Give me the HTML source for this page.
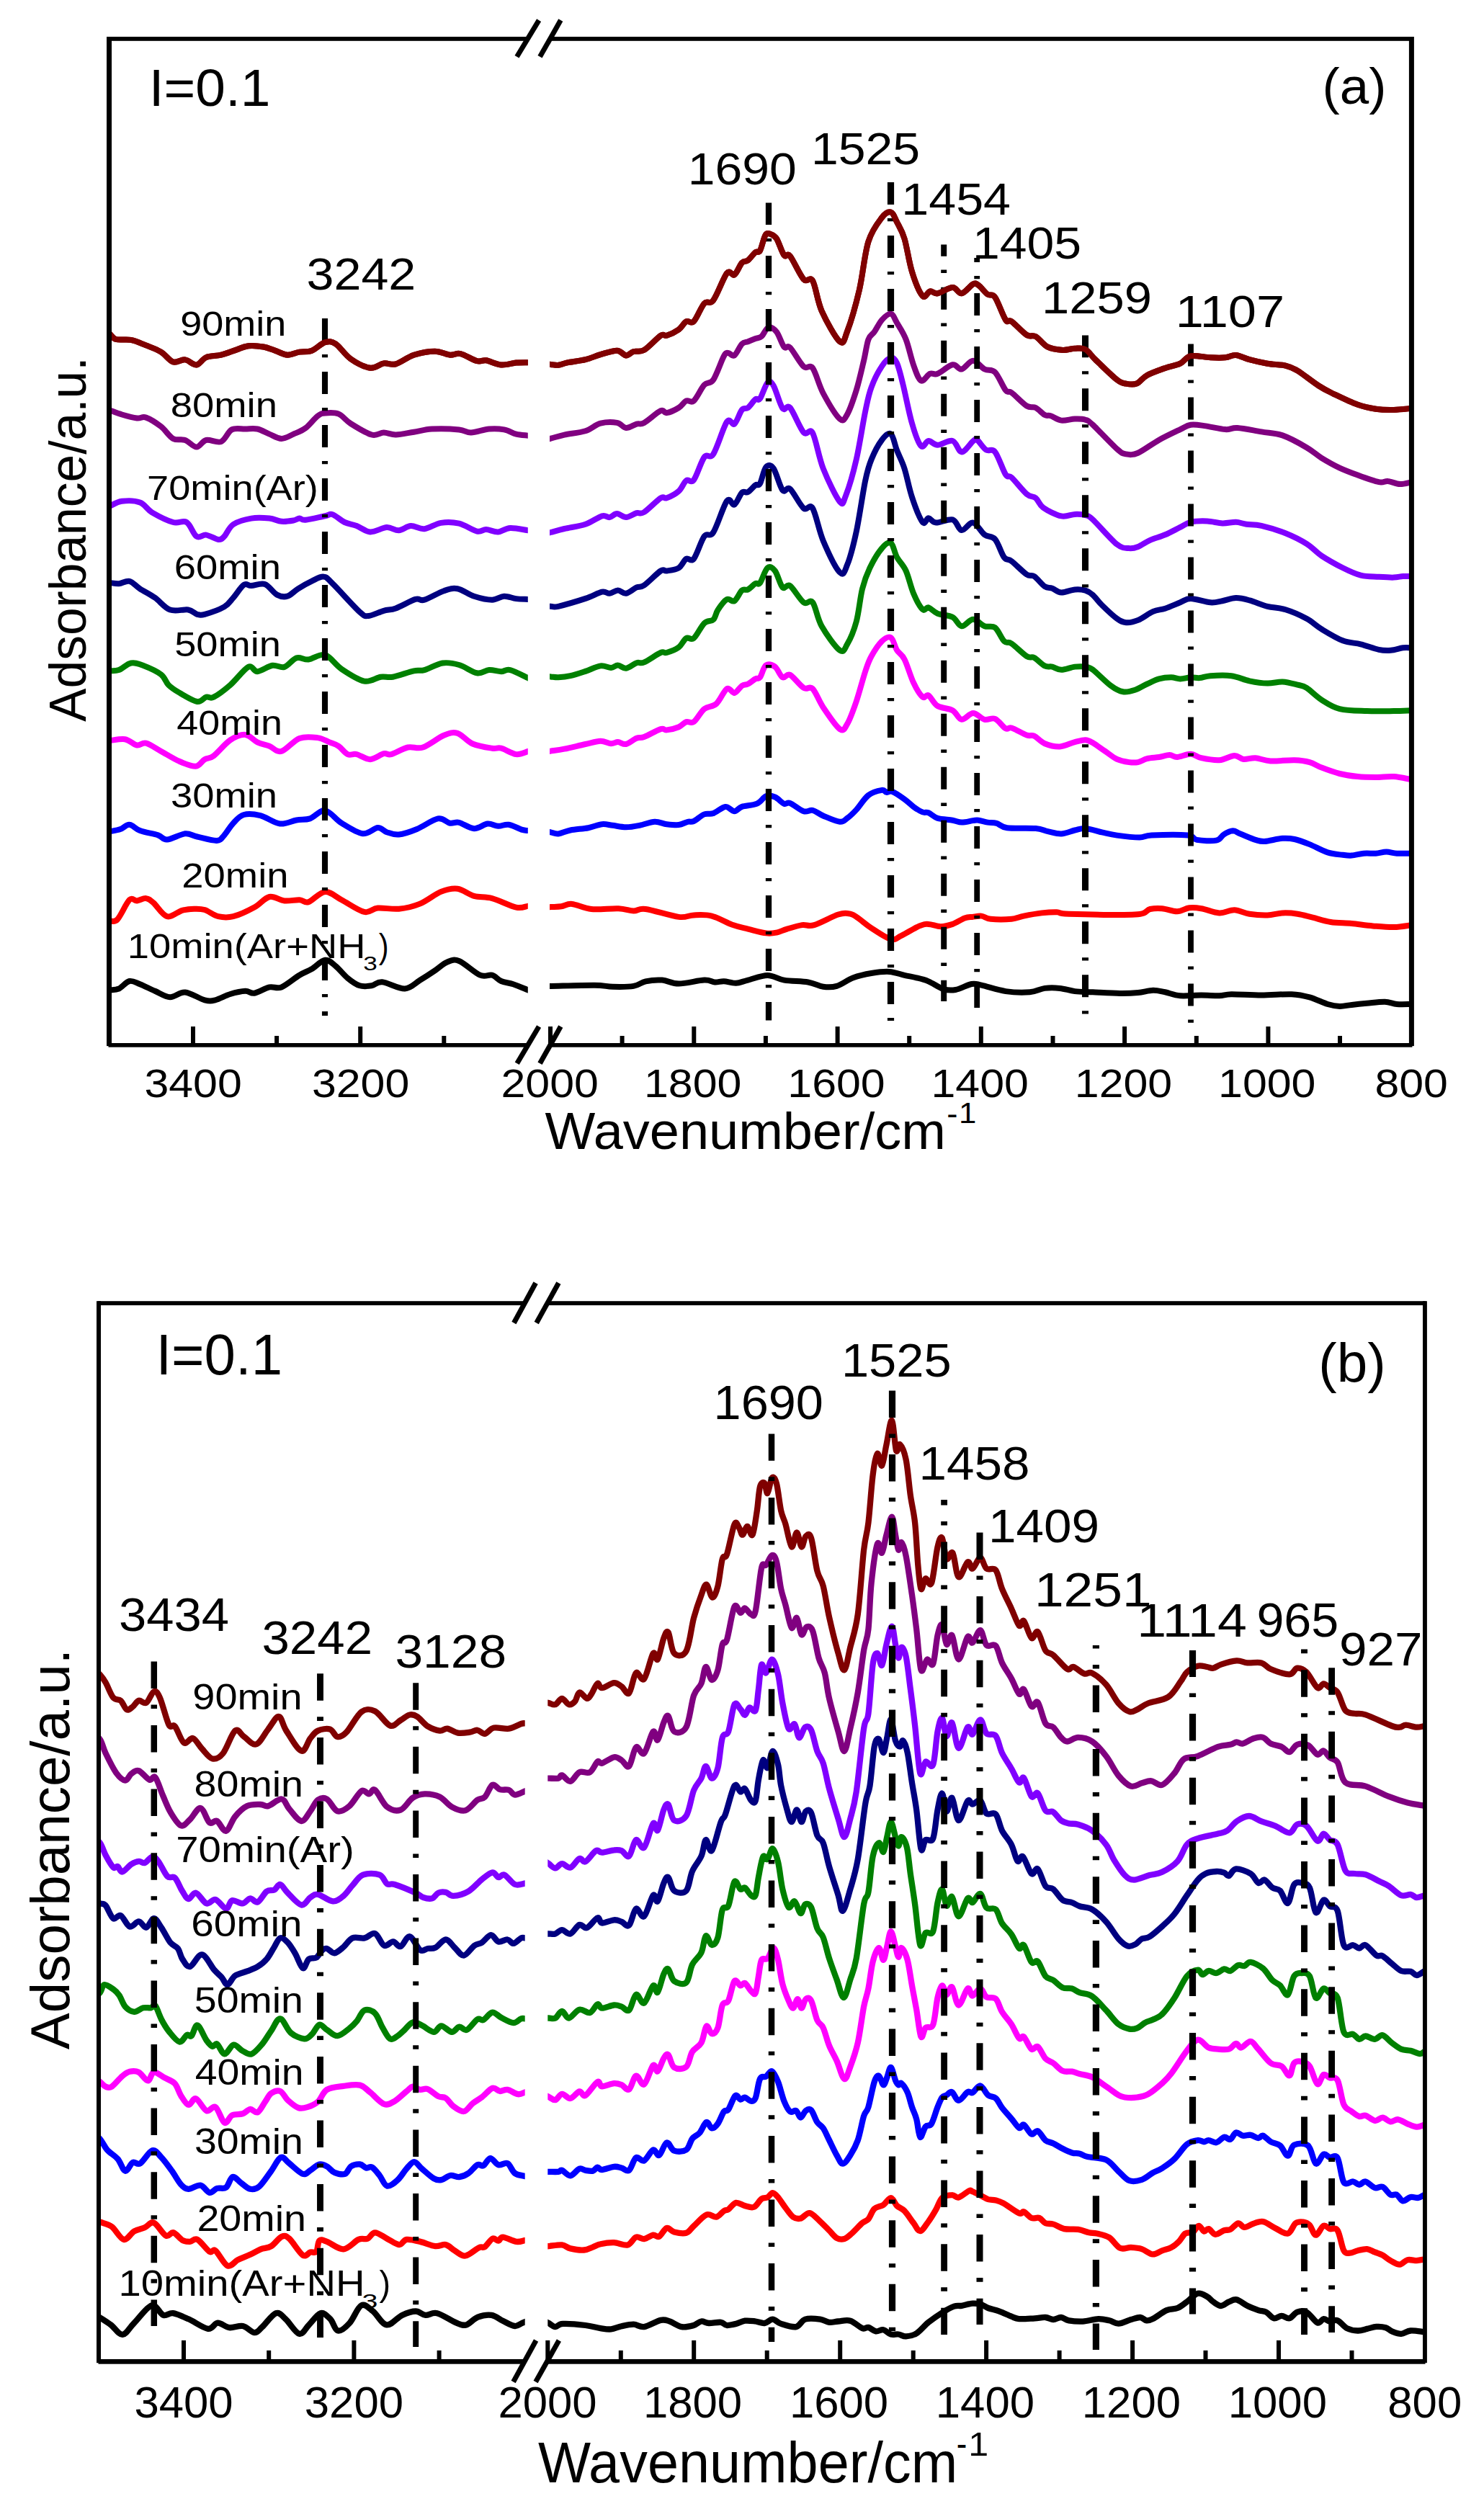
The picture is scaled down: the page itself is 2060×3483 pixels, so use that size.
<!DOCTYPE html>
<html><head><meta charset="utf-8"><title>FTIR spectra</title>
<style>html,body{margin:0;padding:0;background:#fff}svg{display:block}text{font-family:"Liberation Sans",Arial,sans-serif;fill:#000}path{fill:none;stroke-linejoin:round;stroke-linecap:butt}</style></head><body>
<svg width="2060" height="3483" viewBox="0 0 2060 3483">
<rect width="2060" height="3483" fill="#fff"/>
<g id="panelA">
<clipPath id="c1L"><rect x="150" y="0" width="582.8" height="3483"/></clipPath>
<clipPath id="c1R"><rect x="763" y="0" width="1198" height="3483"/></clipPath>
<path d="M142 1376.1C143.6 1375.8 147.9 1375.1 151.7 1374.5C155.5 1373.9 160.4 1374.5 165.1 1372.5C169.7 1370.4 174.8 1363.1 179.7 1362C184.6 1361 188.4 1363.9 194.3 1366.2C200.2 1368.5 208.2 1372.8 215.2 1375.8C222.2 1378.8 229.1 1383.9 236.1 1384.2C243.1 1384.4 249 1376.8 257 1377.5C265 1378.2 277.2 1386.5 284.1 1388.3C291.1 1390.1 292.8 1389.7 298.8 1388.3C304.7 1386.9 312.7 1382.1 319.6 1380C326.6 1377.9 335 1376 340.5 1375.8C346.1 1375.6 347.5 1379.6 353.1 1378.7C358.6 1377.8 367.7 1371.8 374 1370.4C380.2 1369 383.7 1373.1 390.7 1370.4C397.6 1367.6 408.8 1357.8 415.7 1353.7C422.7 1349.5 426.5 1348.8 432.5 1345.3C438.4 1341.8 445.7 1333.5 451.3 1332.8C456.8 1332.1 460.7 1336.9 465.9 1341.1C471.1 1345.3 477 1353.3 482.6 1357.8C488.2 1362.4 493.7 1366.5 499.3 1368.3C504.9 1370 510.8 1369.1 516 1368.3C521.2 1367.4 523 1362.6 530.6 1363.3C538.3 1364 553.3 1372.9 562 1372.5C570.7 1372 575.9 1364.9 582.9 1360.8C589.8 1356.6 597.5 1351.6 603.7 1347.4C610 1343.2 614.9 1337.9 620.5 1335.7C626 1333.5 629.5 1331 637.2 1334C644.8 1337 658.8 1350.4 666.4 1353.7C674.1 1356.9 678.3 1352.3 683.1 1353.7C688 1355 690.8 1359.9 695.7 1362C700.5 1364.1 706.1 1364.1 712.4 1366.2C718.6 1368.3 728.5 1372.6 733.3 1374.5C738 1376.4 739.5 1377.1 740.8 1377.6" stroke="#000000" stroke-width="8.0" clip-path="url(#c1L)"/>
<path d="M755 1369.1C756.6 1369.1 752.9 1369.2 764.6 1368.9C776.3 1368.7 810.9 1367.6 825.2 1367.7C839.5 1367.8 841.2 1369.6 850.3 1369.8C859.3 1370 871.9 1370.2 879.5 1368.9C887.2 1367.7 889.6 1363.7 896.2 1362.3C902.8 1360.9 911.5 1360 919.2 1360.6C926.9 1361.2 932.4 1365.6 942.2 1365.6C951.9 1365.6 969.3 1360.9 977.7 1360.6C986.1 1360.2 987.8 1363.2 992.3 1363.5C996.8 1363.8 1000 1362.1 1004.9 1362.3C1009.7 1362.5 1016 1365 1021.6 1364.8C1027.1 1364.5 1031 1362.4 1038.3 1360.6C1045.6 1358.8 1057.1 1353.9 1065.4 1353.9C1073.8 1353.9 1079 1359 1088.4 1360.6C1097.8 1362.2 1112.8 1362 1121.8 1363.5C1130.9 1365 1136.1 1368.9 1142.7 1369.8C1149.3 1370.7 1154.6 1371 1161.5 1368.9C1168.5 1366.9 1176.5 1360.2 1184.5 1357.3C1192.5 1354.3 1201.2 1352.4 1209.6 1351C1217.9 1349.6 1227 1348.4 1234.6 1348.9C1242.3 1349.4 1249.3 1352.5 1255.5 1353.9C1261.8 1355.3 1266.7 1355.9 1272.2 1357.3C1277.8 1358.6 1282.7 1359.6 1288.9 1362.3C1295.2 1364.9 1303.6 1371.2 1309.8 1373.1C1316.1 1375.1 1320.1 1375.1 1326.5 1374C1333 1372.8 1342.7 1367.1 1348.7 1366C1354.7 1365 1354.7 1366 1362.5 1367.7C1370.4 1369.4 1384.8 1374.4 1396 1376.1C1407.1 1377.7 1420.3 1378 1429.4 1377.3C1438.4 1376.6 1443.3 1372.8 1450.3 1371.9C1457.2 1371 1464.2 1371.2 1471.2 1371.9C1478.1 1372.6 1484.4 1375.1 1492 1376.1C1499.7 1377 1506.7 1376.8 1517.1 1377.3C1527.6 1377.8 1544.3 1378.8 1554.7 1379C1565.2 1379.1 1572.1 1378.8 1579.8 1378.1C1587.4 1377.4 1594.4 1374.9 1600.7 1374.8C1606.9 1374.7 1611.1 1376.1 1617.4 1377.3C1623.7 1378.6 1629.9 1381.6 1638.3 1382.3C1646.6 1383 1658.5 1381.5 1667.5 1381.5C1676.6 1381.5 1685.6 1382.5 1692.6 1382.3C1699.6 1382.1 1699.6 1380.4 1709.3 1380.2C1719 1380.1 1737.2 1381.5 1751.1 1381.5C1765 1381.5 1781.7 1379.7 1792.9 1380.2C1804 1380.7 1809.6 1382.1 1817.9 1384.4C1826.3 1386.7 1836 1391.9 1843 1394C1850 1396.1 1854.1 1396.8 1859.7 1396.9C1865.3 1397.1 1870.1 1395.5 1876.4 1394.9C1882.7 1394.2 1889.6 1393.5 1897.3 1392.8C1905 1392.1 1915.4 1390.5 1922.4 1390.7C1929.3 1390.9 1932.8 1393.5 1939.1 1394C1945.4 1394.6 1955 1394 1960 1394C1965 1394 1967.5 1394 1969 1394" stroke="#000000" stroke-width="8.0" clip-path="url(#c1R)"/>
<path d="M142 1280.2C143.6 1279.9 148.2 1279.1 151.7 1278.5C155.2 1277.8 158.3 1281.2 163 1276.4C167.6 1271.5 175.2 1253.5 179.7 1249.2C184.2 1244.9 186.3 1250.8 190.1 1250.5C194 1250.1 198.8 1246.6 202.7 1247.1C206.5 1247.6 208.2 1249.2 213.1 1253.4C218 1257.6 225.3 1270.4 231.9 1272.2C238.5 1273.9 246.5 1265.6 252.8 1263.8C259.1 1262.1 264.3 1261.9 269.5 1261.7C274.7 1261.6 278.6 1261.3 284.1 1263C289.7 1264.7 296.3 1270.7 302.9 1272.2C309.6 1273.7 315.5 1274.3 323.8 1272.2C332.2 1270.1 344.7 1264.2 353.1 1259.6C361.4 1255.1 367 1246.6 374 1245C380.9 1243.5 387.9 1249.8 394.9 1250.5C401.8 1251.2 410.2 1248.9 415.7 1249.2C421.3 1249.5 422.4 1254 428.3 1252.1C434.2 1250.2 443.6 1238.4 451.3 1237.9C458.9 1237.4 465.2 1244.5 474.2 1249.2C483.3 1253.9 497.2 1264 505.6 1265.9C513.9 1267.8 516.4 1261.2 524.4 1260.5C532.4 1259.8 543.9 1262.7 553.6 1261.7C563.4 1260.8 573.1 1258.6 582.9 1254.6C592.6 1250.7 603.4 1241.4 612.1 1237.9C620.8 1234.4 627.4 1232.8 635.1 1233.7C642.7 1234.7 650.1 1241.5 658.1 1243.8C666.1 1246 673.4 1244.5 683.1 1247.1C692.9 1249.8 708.2 1257.9 716.5 1259.6C724.9 1261.4 729.2 1258.1 733.3 1257.6C737.3 1257.1 739.5 1256.8 740.8 1256.6" stroke="#ff0000" stroke-width="8.0" clip-path="url(#c1L)"/>
<path d="M755 1259.6C756.6 1259.5 760.6 1259.3 764.6 1259.1C768.7 1258.8 774.4 1258.9 779.2 1258.2C784.1 1257.5 786.9 1254.3 793.9 1254.9C800.8 1255.5 810.2 1261 821 1262C831.8 1263 848.9 1260.7 858.6 1261.2C868.4 1261.6 873.2 1264.4 879.5 1264.5C885.8 1264.6 885.8 1260.6 896.2 1262C906.7 1263.4 931 1271.5 942.2 1272.9C953.3 1274.2 955.4 1270.6 963.1 1270.4C970.7 1270.1 979.1 1269.3 988.1 1271.6C997.2 1273.9 1009 1281.1 1017.4 1284.1C1025.7 1287.1 1030.6 1287.7 1038.3 1289.6C1045.9 1291.4 1056.7 1294.6 1063.3 1295.4C1070 1296.3 1073.1 1295.6 1078 1294.6C1082.8 1293.6 1086.7 1291.3 1092.6 1289.6C1098.5 1287.8 1107.2 1285 1113.5 1284.1C1119.7 1283.2 1121.8 1286.6 1130.2 1284.1C1138.5 1281.7 1155.3 1272.1 1163.6 1269.5C1172 1266.9 1175.4 1267.6 1180.3 1268.7C1185.2 1269.7 1188 1272.5 1192.9 1275.8C1197.7 1279.1 1202.3 1283.7 1209.6 1288.3C1216.9 1293 1229.8 1302 1236.7 1303.8C1243.7 1305.5 1244.7 1301.8 1251.3 1298.8C1258 1295.7 1270.1 1288 1276.4 1285.4C1282.7 1282.7 1284.1 1282.7 1288.9 1282.9C1293.8 1283 1300.1 1286.2 1305.7 1286.2C1311.2 1286.2 1316.8 1284.8 1322.4 1282.9C1327.9 1280.9 1334.5 1276.2 1339.1 1274.5C1343.7 1272.9 1346.1 1273.3 1350 1272.9C1353.9 1272.4 1358.4 1271.1 1362.5 1271.6C1366.7 1272.1 1368.1 1275.1 1375.1 1275.8C1382 1276.5 1396.7 1276.5 1404.3 1275.8C1412 1275.1 1414.1 1273 1421 1271.6C1428 1270.2 1438.4 1268.3 1446.1 1267.4C1453.8 1266.5 1460.7 1266 1467 1266.2C1473.2 1266.4 1465.6 1268.1 1483.7 1268.7C1501.8 1269.2 1556.8 1270.6 1575.6 1269.5C1594.4 1268.4 1590.2 1263.4 1596.5 1262C1602.8 1260.6 1606.9 1260.6 1613.2 1261.2C1619.5 1261.7 1627.8 1265.5 1634.1 1265.3C1640.4 1265.2 1645.2 1261 1650.8 1260.3C1656.4 1259.6 1660.6 1260 1667.5 1261.2C1674.5 1262.3 1684.9 1267.1 1692.6 1267.4C1700.2 1267.8 1706.5 1263 1713.5 1263.2C1720.4 1263.5 1726.7 1267.5 1734.4 1268.7C1742 1269.9 1751.8 1270.6 1759.4 1270.4C1767.1 1270.1 1773.4 1267.7 1780.3 1267.4C1787.3 1267.1 1794.2 1267.6 1801.2 1268.7C1808.2 1269.7 1814.4 1271.8 1822.1 1273.7C1829.8 1275.6 1838.1 1278.6 1847.2 1280C1856.2 1281.4 1866.7 1281.1 1876.4 1282C1886.2 1283 1895.9 1284.6 1905.7 1285.4C1915.4 1286.2 1925.9 1287.3 1934.9 1287.1C1944 1286.9 1954.3 1284.8 1960 1284.1C1965.7 1283.5 1967.5 1283.3 1969 1283.1" stroke="#ff0000" stroke-width="8.0" clip-path="url(#c1R)"/>
<path d="M142 1156.5C143.6 1156.1 147.5 1155.3 151.7 1154.4C155.9 1153.5 162.5 1152.6 167.2 1151C171.8 1149.4 175.2 1144.4 179.7 1144.8C184.2 1145.1 187.7 1150.7 194.3 1153.1C200.9 1155.6 213.1 1157.3 219.4 1159.4C225.6 1161.5 225.6 1166 231.9 1165.6C238.2 1165.3 250 1158 257 1157.3C263.9 1156.6 266.4 1159.9 273.7 1161.5C281 1163.1 294.6 1167.2 300.8 1166.9C307.1 1166.6 307.5 1163.4 311.3 1159.4C315.1 1155.3 319.3 1147.4 323.8 1142.7C328.4 1137.9 332.2 1132.7 338.5 1131C344.7 1129.2 353.1 1130.1 361.4 1132.2C369.8 1134.3 380.2 1142.5 388.6 1143.5C396.9 1144.5 404.6 1139.7 411.6 1138.5C418.5 1137.3 423.7 1138.6 430.4 1136.4C437 1134.2 443.9 1124.1 451.3 1125.1C458.6 1126.2 465.5 1137.3 474.2 1142.7C482.9 1148 495.1 1156.2 503.5 1157.3C511.8 1158.3 518.8 1149.3 524.4 1148.9C529.9 1148.6 532 1153.6 536.9 1155.2C541.8 1156.8 546.6 1159.2 553.6 1158.5C560.6 1157.8 569.6 1154.7 578.7 1151C587.7 1147.3 600.3 1137.8 607.9 1136.4C615.6 1135 619.8 1141.8 624.6 1142.7C629.5 1143.6 631.6 1140.6 637.2 1141.8C642.7 1143.1 651.4 1149.9 658.1 1150.2C664.7 1150.5 671.3 1144.1 676.9 1143.5C682.4 1142.9 686.6 1146.6 691.5 1146.8C696.4 1147.1 700.5 1143.9 706.1 1144.8C711.7 1145.6 720.4 1150.5 724.9 1151.9C729.4 1153.3 730.6 1152.7 733.3 1153.1C735.9 1153.5 739.5 1154.1 740.8 1154.2" stroke="#0000ff" stroke-width="8.0" clip-path="url(#c1L)"/>
<path d="M755 1153.5C756.6 1153.8 761.3 1154.8 764.6 1155.4C768 1156.1 770.5 1158 775.1 1157.5C779.6 1157 784.8 1153.9 791.8 1152.5C798.7 1151.1 809.5 1150.6 816.8 1149.2C824.2 1147.8 830.1 1144.7 835.6 1144.2C841.2 1143.6 844.7 1145.1 850.3 1145.8C855.8 1146.5 862.8 1148.3 869.1 1148.3C875.3 1148.3 881.3 1147.1 887.9 1145.8C894.5 1144.6 902.5 1141.1 908.8 1140.8C915 1140.5 919.9 1143.5 925.5 1144.2C931 1144.8 937.3 1145.5 942.2 1145C947.1 1144.4 951.2 1141.6 954.7 1140.8C958.2 1140 959.2 1141.7 963.1 1140C966.9 1138.2 973.2 1132.2 977.7 1130.4C982.2 1128.6 985.4 1130.9 990.2 1129.1C995.1 1127.4 1002.1 1120.4 1006.9 1119.9C1011.8 1119.4 1015.6 1126.2 1019.5 1126.2C1023.3 1126.2 1024.7 1121.7 1029.9 1119.9C1035.1 1118.2 1045.2 1118.2 1050.8 1115.7C1056.4 1113.3 1059.2 1106.8 1063.3 1105.3C1067.5 1103.8 1071.7 1104.8 1075.9 1106.5C1080.1 1108.3 1084.9 1114.3 1088.4 1115.7C1091.9 1117.1 1092.2 1113.2 1096.8 1114.9C1101.3 1116.6 1110.3 1124.5 1115.6 1126.2C1120.8 1127.9 1123.6 1123.9 1128.1 1124.9C1132.6 1126 1136.5 1129.8 1142.7 1132.5C1149 1135.1 1160.1 1140.3 1165.7 1140.8C1171.3 1141.4 1172.3 1138.6 1176.1 1135.8C1180 1133 1183.8 1129.4 1188.7 1124.1C1193.6 1118.8 1199.5 1108.6 1205.4 1104C1211.3 1099.5 1220 1097.6 1224.2 1096.9C1228.4 1096.2 1228 1099.5 1230.5 1099.9C1232.9 1100.2 1234.6 1097.4 1238.8 1099C1243 1100.6 1250.7 1106 1255.5 1109.5C1260.4 1113 1263.9 1116.9 1268.1 1119.9C1272.2 1122.9 1277.1 1126 1280.6 1127.4C1284.1 1128.8 1285.5 1126.9 1288.9 1128.3C1292.4 1129.7 1295.9 1134.1 1301.5 1135.8C1307.1 1137.5 1316.8 1137.7 1322.4 1138.7C1327.9 1139.7 1330.2 1141.6 1334.9 1141.6C1339.6 1141.7 1346.9 1139.6 1350.8 1139.1C1354.7 1138.7 1355 1138.3 1358.4 1138.7C1361.7 1139.1 1366.7 1140.9 1370.9 1141.6C1375.1 1142.3 1378.9 1141.6 1383.4 1142.9C1387.9 1144.2 1389 1148 1398 1149.2C1407.1 1150.3 1428.3 1149.2 1437.7 1150C1447.1 1150.8 1448.5 1152.9 1454.4 1154.2C1460.4 1155.4 1467 1157.8 1473.2 1157.5C1479.5 1157.2 1486.5 1153.8 1492 1152.5C1497.6 1151.3 1500.4 1149.5 1506.7 1150C1512.9 1150.5 1522.3 1153.8 1529.6 1155.4C1537 1157 1541.8 1158.4 1550.5 1159.6C1559.2 1160.8 1573.9 1162.5 1581.9 1162.5C1589.9 1162.5 1587.4 1160.1 1598.6 1159.6C1609.7 1159.1 1638.3 1158.6 1648.7 1159.6C1659.2 1160.7 1654.6 1164.7 1661.3 1165.9C1667.9 1167.1 1682.1 1168 1688.4 1166.7C1694.7 1165.5 1695 1160.6 1698.9 1158.4C1702.7 1156.1 1707.6 1153.5 1711.4 1153.3C1715.2 1153.2 1716.6 1155.4 1721.8 1157.5C1727.1 1159.6 1737.2 1164.1 1742.7 1165.9C1748.3 1167.6 1749 1168.3 1755.3 1168C1761.5 1167.6 1773.4 1164.3 1780.3 1163.8C1787.3 1163.3 1790.8 1163.6 1797 1165C1803.3 1166.4 1810.3 1169.1 1817.9 1172.1C1825.6 1175.2 1835.3 1181 1843 1183.4C1850.7 1185.9 1858.3 1186.1 1863.9 1186.8C1869.5 1187.5 1871.5 1187.9 1876.4 1187.6C1881.3 1187.3 1887.6 1185.2 1893.1 1184.7C1898.7 1184.2 1904.6 1185 1909.8 1184.7C1915.1 1184.3 1919.6 1182.6 1924.5 1182.6C1929.3 1182.6 1933.2 1184.3 1939.1 1184.7C1945 1185 1955 1184.7 1960 1184.7C1965 1184.7 1967.5 1184.7 1969 1184.7" stroke="#0000ff" stroke-width="8.0" clip-path="url(#c1R)"/>
<path d="M142 1029.2C143.6 1029.1 146.5 1028.8 151.7 1028.3C156.9 1027.8 167 1025.1 173.4 1026.2C179.8 1027.2 185.3 1033.6 190.1 1034.5C195 1035.4 197.1 1030.2 202.7 1031.6C208.2 1033 215.9 1038.7 223.6 1042.9C231.2 1047.1 240.6 1053.2 248.6 1056.7C256.6 1060.2 265.7 1064.2 271.6 1063.8C277.5 1063.4 280 1056.6 284.1 1054.2C288.3 1051.7 290.8 1053.6 296.7 1049.2C302.6 1044.7 312.3 1032.3 319.6 1027.4C327 1022.6 334.3 1019.4 340.5 1019.9C346.8 1020.4 351.7 1027.7 357.3 1030.4C362.8 1033 368.4 1033.7 374 1035.8C379.5 1037.9 383.7 1044.7 390.7 1042.9C397.6 1041.1 407.4 1028.1 415.7 1024.9C424.1 1021.8 433.8 1023.2 440.8 1024.1C447.8 1025 452.6 1028.4 457.5 1030.4C462.4 1032.3 465.9 1033 470.1 1035.8C474.2 1038.6 478.4 1045.2 482.6 1047.1C486.8 1049 489.9 1045.9 495.1 1047.1C500.3 1048.3 507.7 1054.3 513.9 1054.2C520.2 1054 527.8 1047.4 532.7 1046.2C537.6 1045.1 537.6 1048.5 543.2 1047.1C548.7 1045.6 558.8 1039.1 566.1 1037.5C573.5 1035.9 578.7 1040.3 587 1037.5C595.4 1034.7 608.3 1024 616.3 1020.8C624.3 1017.5 628.5 1015.9 635.1 1017.8C641.7 1019.8 648 1029 656 1032.5C664 1035.9 676.5 1037.7 683.1 1038.7C689.7 1039.8 690.1 1037.3 695.7 1038.7C701.2 1040.1 710.3 1046.4 716.5 1047.1C722.8 1047.8 729.2 1043.9 733.3 1042.9C737.3 1041.9 739.5 1041.3 740.8 1041" stroke="#ff00ff" stroke-width="8.0" clip-path="url(#c1L)"/>
<path d="M755 1044.1C756.6 1043.9 759.9 1043.4 764.6 1042.6C769.4 1041.9 775.4 1041.3 783.4 1039.7C791.4 1038.1 804.3 1034.8 812.7 1033C821 1031.2 827.6 1029 833.6 1028.8C839.5 1028.7 844.1 1032 848.2 1032.2C852.2 1032.4 854.3 1030 857.8 1030.1C861.3 1030.2 864.8 1033.9 869.1 1033C873.4 1032.1 879.5 1026.3 883.7 1024.7C887.9 1023 888.6 1025.1 894.1 1023C899.7 1020.9 911.9 1013.7 917.1 1012.1C922.3 1010.5 921.3 1013.9 925.5 1013.4C929.6 1012.9 937.7 1011.1 942.2 1009.2C946.7 1007.3 949.1 1003.3 952.6 1002.1C956.1 1000.9 958.9 1005.1 963.1 1002.1C967.3 999.1 972.5 988.3 977.7 984.1C982.9 980 989.2 981.7 994.4 977C999.6 972.4 1004.9 958.7 1009 956.1C1013.2 953.6 1016 962.7 1019.5 962C1023 961.3 1026.8 954.1 1029.9 952C1033.1 949.9 1035.1 951.1 1038.3 949.5C1041.4 947.9 1045.9 943.9 1048.7 942.4C1051.5 940.8 1052.5 943.4 1055 940.3C1057.4 937.1 1059.9 926 1063.3 923.6C1066.8 921.1 1072 922.9 1075.9 925.6C1079.7 928.4 1082.8 938.4 1086.3 940.3C1089.8 942.1 1091.9 934.5 1096.8 936.9C1101.6 939.4 1110.3 951.7 1115.6 954.9C1120.8 958.1 1123.6 951.6 1128.1 956.1C1132.6 960.7 1136.5 972.7 1142.7 982C1149 991.4 1160.1 1008.3 1165.7 1012.1C1171.3 1016 1172.3 1011.4 1176.1 1005C1180 998.6 1184.5 985.9 1188.7 973.7C1192.9 961.5 1197.7 942.4 1201.2 931.9C1204.7 921.5 1205.7 918 1209.6 911C1213.4 904.1 1219.7 894.5 1224.2 890.1C1228.7 885.8 1233.2 883 1236.7 885.1C1240.2 887.2 1241.9 897.7 1245.1 902.7C1248.2 907.7 1251.7 907.7 1255.5 915.2C1259.4 922.7 1263.9 939.1 1268.1 947.8C1272.2 956.5 1277.1 964.5 1280.6 967.4C1284.1 970.4 1285.5 963.2 1288.9 965.3C1292.4 967.4 1295.9 976.5 1301.5 980C1307.1 983.4 1316.8 983.1 1322.4 986.2C1327.9 989.4 1330.2 998.1 1334.9 998.8C1339.6 999.4 1345.5 990 1350.8 990C1356.1 990 1361.6 997.4 1366.7 998.8C1371.8 1000.1 1376.5 995.8 1381.3 997.9C1386.2 1000 1392.1 1009.2 1396 1011.3C1399.8 1013.4 1399.4 1008.9 1404.3 1010.5C1409.2 1012 1420 1018.6 1425.2 1020.5C1430.4 1022.4 1431.5 1019.8 1435.6 1021.7C1439.8 1023.7 1444.4 1029.7 1450.3 1032.2C1456.2 1034.6 1464.2 1036.7 1471.2 1036.4C1478.1 1036 1486.1 1031.6 1492 1030.1C1498 1028.6 1502.5 1027 1506.7 1027.2C1510.8 1027.4 1512.6 1028.8 1517.1 1031.3C1521.6 1033.9 1528.3 1038.9 1533.8 1042.6C1539.4 1046.4 1545 1051.3 1550.5 1053.9C1556.1 1056.5 1562.4 1057.4 1567.3 1058.1C1572.1 1058.8 1575.6 1058.9 1579.8 1058.1C1584 1057.3 1587.4 1054.3 1592.3 1053.1C1597.2 1051.9 1603.8 1051.8 1609 1051C1614.3 1050.1 1619.5 1048.1 1623.7 1048.1C1627.8 1048.1 1629.2 1051.2 1634.1 1051C1639 1050.8 1647.3 1046.6 1652.9 1046.8C1658.5 1047 1660.9 1050.8 1667.5 1052.2C1674.1 1053.6 1684.9 1055.7 1692.6 1055.2C1700.2 1054.6 1707.9 1049.1 1713.5 1048.9C1719 1048.7 1721.1 1053.4 1726 1053.9C1730.9 1054.5 1736.5 1051.8 1742.7 1052.2C1749 1052.7 1754.6 1055.9 1763.6 1056.4C1772.7 1056.9 1788 1054.9 1797 1055.2C1806.1 1055.4 1811.7 1056.3 1817.9 1058.1C1824.2 1059.8 1827.7 1063 1834.6 1065.6C1841.6 1068.3 1851.3 1071.9 1859.7 1074C1868.1 1076.1 1876.4 1077.3 1884.8 1078.1C1893.1 1079 1901.5 1079 1909.8 1079C1918.2 1079 1926.5 1077.6 1934.9 1078.1C1943.3 1078.7 1954.3 1081.4 1960 1082.3C1965.7 1083.3 1967.5 1083.6 1969 1083.8" stroke="#ff00ff" stroke-width="8.0" clip-path="url(#c1R)"/>
<path d="M142 932.3C143.6 932.1 147.9 931.7 151.7 931.3C155.5 931 160.1 931.9 165.1 930.1C170.1 928.3 176.2 921.5 181.8 920.5C187.3 919.4 191.5 921.2 198.5 923.8C205.5 926.5 217.6 931.8 223.6 936.4C229.5 940.9 229.8 946.8 234 951C238.2 955.2 242 957.6 248.6 961.4C255.2 965.3 267.4 972.9 273.7 974C280 975 282.4 968.7 286.2 967.7C290.1 966.7 291.1 970.5 296.7 967.7C302.2 964.9 311.6 957.9 319.6 951C327.7 944 338.5 929 344.7 925.9C351 922.8 351.7 932.5 357.3 932.2C362.8 931.8 371.9 924.9 378.1 923.8C384.4 922.8 389.3 927.7 394.9 925.9C400.4 924.2 406 915.1 411.6 913.4C417.1 911.6 421.7 916.2 428.3 915.5C434.9 914.8 443.6 907 451.3 909.2C458.9 911.4 465.2 922.8 474.2 928.8C483.3 934.9 496.5 943.7 505.6 945.6C514.6 947.4 521.9 940.7 528.5 939.7C535.2 938.7 537.6 941.1 545.3 939.7C552.9 938.3 567.2 932.9 574.5 931.3C581.8 929.7 582.5 931.9 589.1 930.1C595.7 928.3 606.2 921.7 614.2 920.5C622.2 919.3 629.2 920.7 637.2 923C645.2 925.3 655.3 933.1 662.2 934.3C669.2 935.5 673.4 930.4 678.9 930.1C684.5 929.7 690.8 932.2 695.7 932.2C700.5 932.2 701.9 928.6 708.2 930.1C714.5 931.6 727.8 938.9 733.3 941.4C738.7 943.8 739.5 944.2 740.8 944.8" stroke="#008000" stroke-width="8.0" clip-path="url(#c1L)"/>
<path d="M755 938.7C756.6 938.8 761.3 939.2 764.6 939.4C768 939.7 770.5 940.5 775.1 940.3C779.6 940.1 785.5 939.6 791.8 938.2C798 936.8 805.7 934.2 812.7 931.9C819.6 929.6 827.6 925.2 833.6 924.4C839.5 923.6 844.1 927 848.2 926.9C852.2 926.8 854.3 923.4 857.8 923.6C861.3 923.7 864.8 928.3 869.1 927.7C873.4 927.2 879.5 921.6 883.7 920.2C887.9 918.8 888.6 921.7 894.1 919.4C899.7 917 911.9 908.2 917.1 906C922.3 903.8 921.3 907.3 925.5 906C929.6 904.8 937.7 901.8 942.2 898.5C946.7 895.1 949.1 888 952.6 886C956.1 883.9 958.9 889.4 963.1 886C967.3 882.5 973.2 869.4 977.7 865.1C982.2 860.8 987.1 863.1 990.2 860.1C993.4 857 993.4 851.4 996.5 846.8C999.6 842.1 1005.2 834.2 1009 832.1C1012.9 830.1 1016 836.3 1019.5 834.2C1023 832.1 1026.8 822.3 1029.9 819.6C1033.1 817 1035.1 820 1038.3 818.4C1041.4 816.8 1045.9 811.5 1048.7 810C1051.5 808.5 1052.2 812.8 1055 809.2C1057.8 805.5 1061.9 791.1 1065.4 788.3C1068.9 785.5 1072.4 787.9 1075.9 792.5C1079.4 797 1082.8 811.9 1086.3 815.4C1089.8 818.9 1091.9 809.9 1096.8 813.3C1101.6 816.8 1110.3 832.5 1115.6 836.3C1120.8 840.2 1123.9 830.8 1128.1 836.3C1132.3 841.8 1134.4 858.2 1140.6 869.2C1146.9 880.3 1159.8 898.5 1165.7 902.7C1171.6 906.8 1172.3 900.9 1176.1 894.3C1180 887.7 1185.2 875.8 1188.7 863C1192.2 850.2 1193.9 830 1197 817.5C1200.2 805.1 1203 797.7 1207.5 788.3C1212 778.9 1219.3 766.8 1224.2 761.1C1229.1 755.4 1233.2 751.9 1236.7 754C1240.2 756.1 1241.6 767.2 1245.1 773.7C1248.6 780.1 1253.8 784.1 1257.6 792.5C1261.4 800.8 1264.2 814.9 1268.1 823.8C1271.9 832.7 1277.1 842.7 1280.6 845.9C1284.1 849.2 1285.5 842.5 1288.9 843.4C1292.4 844.4 1295.9 849.5 1301.5 851.7C1307.1 853.9 1316.8 853.8 1322.4 856.7C1327.9 859.6 1330.2 868.7 1334.9 869.2C1339.6 869.8 1345.5 859.8 1350.8 859.8C1356.1 859.8 1361.6 867.3 1366.7 869.2C1371.8 871.2 1376.8 867.9 1381.3 871.3C1385.9 874.8 1390 886.4 1393.9 890.1C1397.7 893.8 1399.1 890 1404.3 893.5C1409.5 897 1420 907.8 1425.2 911C1430.4 914.3 1431.5 910.9 1435.6 913.1C1439.8 915.3 1446.1 922.3 1450.3 924.4C1454.4 926.5 1456.9 924.7 1460.7 925.6C1464.5 926.6 1468 929.8 1473.2 929.8C1478.5 929.8 1486.5 926.3 1492 925.6C1497.6 925 1502.5 925 1506.7 925.6C1510.8 926.3 1511.2 925.4 1517.1 929.8C1523 934.2 1535.2 946.9 1542.2 952C1549.1 957.1 1553.3 959.3 1558.9 960.3C1564.5 961.3 1570 959.6 1575.6 957.8C1581.2 956 1586.7 952 1592.3 949.5C1597.9 946.9 1603.5 943.9 1609 942.4C1614.6 940.8 1620.9 940.3 1625.7 940.3C1630.6 940.3 1633.7 942.4 1638.3 942.4C1642.8 942.4 1648.4 940.5 1652.9 940.3C1657.4 940.1 1660.9 941.5 1665.4 941.1C1670 940.8 1672.7 938.7 1680.1 938.2C1687.4 937.7 1700.2 937 1709.3 938.2C1718.4 939.4 1726 943.5 1734.4 945.3C1742.7 947 1751.8 948.4 1759.4 948.6C1767.1 948.8 1773.4 946.2 1780.3 946.5C1787.3 946.9 1795.6 949.3 1801.2 950.7C1806.8 952.1 1808.2 951.4 1813.7 954.9C1819.3 958.4 1827 966.7 1834.6 971.6C1842.3 976.5 1849.3 981.6 1859.7 984.1C1870.1 986.7 1884.8 986.6 1897.3 987.1C1909.8 987.5 1924.5 987.2 1934.9 987.1C1945.4 986.9 1954.3 986.4 1960 986.2C1965.7 986 1967.5 986 1969 985.9" stroke="#008000" stroke-width="8.0" clip-path="url(#c1R)"/>
<path d="M142 808C143.6 808.2 147.9 808.6 151.7 808.9C155.5 809.3 160.4 810.5 165.1 810.2C169.7 809.8 174.8 805.7 179.7 806.8C184.6 808 188.4 813.5 194.3 817.3C200.2 821.1 208.2 825 215.2 829.8C222.2 834.7 228.4 843.8 236.1 846.5C243.8 849.3 254.9 845.5 261.2 846.5C267.4 847.6 269.9 851.8 273.7 852.8C277.5 853.8 277.9 854.5 284.1 852.8C290.4 851.1 304.7 846.2 311.3 842.4C317.9 838.5 319.3 834.9 323.8 829.8C328.4 824.7 334.3 814.6 338.5 811.9C342.6 809.1 344 813.3 348.9 813.1C353.8 813 361.8 808.9 367.7 811C373.6 813.1 379.2 822.9 384.4 825.6C389.6 828.4 394.2 829.1 399 827.7C403.9 826.3 408.1 820.8 413.7 817.3C419.2 813.8 426.5 809.6 432.5 806.8C438.4 804.1 444.3 800 449.2 800.6C454 801.1 453.3 802 461.7 810.2C470.1 818.3 490.9 842 499.3 849.5C507.7 856.9 506.3 855.2 511.8 854.9C517.4 854.6 526.5 849.5 532.7 847.8C539 846 542.1 847.1 549.4 844.4C556.7 841.8 570 833.9 576.6 831.9C583.2 830 582.5 834.7 589.1 832.7C595.7 830.8 608.6 822.8 616.3 820.2C623.9 817.6 628.1 816 635.1 817.3C642 818.5 650.1 825.2 658.1 827.7C666.1 830.3 676.2 832.7 683.1 832.7C690.1 832.7 694.3 828 699.8 827.7C705.4 827.5 711 830.4 716.5 831.1C722.1 831.8 729.2 831.7 733.3 831.9C737.3 832.1 739.5 832.2 740.8 832.3" stroke="#000080" stroke-width="8.0" clip-path="url(#c1L)"/>
<path d="M755 841.8C756.6 841.8 761.3 841.8 764.6 841.8C768 841.8 767.1 843.6 775.1 841.8C783.1 839.9 802.6 834.2 812.7 830.9C822.8 827.5 830.1 822.9 835.6 821.7C841.2 820.5 842.4 824.1 846.1 823.8C849.8 823.4 854 819.6 857.8 819.6C861.6 819.6 864.8 824.5 869.1 823.8C873.4 823.1 879.5 817.3 883.7 815.4C887.9 813.6 888.6 816.3 894.1 812.5C899.7 808.7 911.9 795.8 917.1 792.5C922.3 789.1 921.3 793.1 925.5 792.5C929.6 791.8 937.7 791.1 942.2 788.3C946.7 785.5 949.1 777.8 952.6 775.7C956.1 773.7 958.9 781 963.1 775.7C967.3 770.5 973.2 750.5 977.7 744.4C982.2 738.3 985 747.1 990.2 739C995.5 730.8 1004.2 701.9 1009 695.5C1013.9 689.1 1016 702.5 1019.5 700.5C1023 698.6 1026.8 686.8 1029.9 683.8C1033.1 680.9 1035.1 684.7 1038.3 683C1041.4 681.3 1045.9 675.3 1048.7 673.4C1051.5 671.4 1052.5 675.5 1055 671.3C1057.4 667.1 1060.2 651.8 1063.3 648.3C1066.5 644.8 1070 645 1073.8 650.4C1077.6 655.8 1082.5 675.8 1086.3 680.5C1090.2 685.2 1091.9 674.6 1096.8 678.8C1101.6 683 1110.3 701.1 1115.6 705.6C1120.8 710 1123.6 698 1128.1 705.6C1132.6 713.1 1136.5 735.8 1142.7 750.7C1149 765.5 1160.1 789 1165.7 794.5C1171.3 800.1 1172.3 793.5 1176.1 784.1C1180 774.7 1184.5 757.6 1188.7 738.1C1192.9 718.6 1197.7 683.8 1201.2 667.1C1204.7 650.4 1205.7 647.3 1209.6 637.9C1213.4 628.5 1219.7 616.6 1224.2 610.7C1228.7 604.8 1233.2 599.9 1236.7 602.4C1240.2 604.8 1241.9 617.3 1245.1 625.3C1248.2 633.3 1252 639.6 1255.5 650.4C1259 661.2 1261.8 677.7 1266 690.1C1270.1 702.5 1276.8 719.9 1280.6 724.8C1284.4 729.6 1285.8 719.2 1288.9 719.3C1292.1 719.5 1293.8 725.3 1299.4 725.6C1305 726 1316.5 719.7 1322.4 721.4C1328.3 723.2 1330.2 735.4 1334.9 736.1C1339.6 736.7 1345.5 724.6 1350.8 725.6C1356.1 726.7 1361.6 738.5 1366.7 742.3C1371.8 746.1 1376.8 743.4 1381.3 748.6C1385.9 753.8 1390 768.6 1393.9 773.7C1397.7 778.7 1399.1 775.1 1404.3 779.1C1409.5 783.1 1420 794 1425.2 797.5C1430.4 800.9 1431.5 797.2 1435.6 800C1439.8 802.8 1446.1 811.4 1450.3 814.2C1454.4 817 1456.9 815.3 1460.7 816.7C1464.5 818.1 1468 822.3 1473.2 822.5C1478.5 822.8 1486.5 818.8 1492 818.4C1497.6 817.9 1502.5 818.4 1506.7 819.6C1510.8 820.9 1513.3 822.5 1517.1 825.9C1520.9 829.3 1524.1 834.5 1529.6 840C1535.2 845.5 1545 854.8 1550.5 858.8C1556.1 862.8 1558.2 863.9 1563.1 864.2C1567.9 864.6 1573.5 863.5 1579.8 860.9C1586.1 858.3 1594.4 851.6 1600.7 848.9C1606.9 846.2 1611.1 846.8 1617.4 844.7C1623.7 842.6 1632.4 838.6 1638.3 836.3C1644.2 834 1645.9 830.9 1652.9 830.9C1659.9 830.9 1672.7 835.8 1680.1 836.3C1687.4 836.9 1690.8 835.3 1696.8 834.2C1702.7 833.2 1709.3 830.2 1715.6 830.1C1721.8 829.9 1727.1 831.4 1734.4 833.4C1741.7 835.3 1751.1 839.6 1759.4 841.8C1767.8 843.9 1775.4 843.4 1784.5 846.3C1793.6 849.1 1805.4 854.3 1813.7 858.8C1822.1 863.3 1826.3 868.3 1834.6 873.4C1843 878.5 1854.8 885.8 1863.9 889.3C1872.9 892.8 1880.6 892.2 1888.9 894.3C1897.3 896.4 1907.1 900.4 1914 901.8C1921 903.2 1925.2 903.1 1930.7 902.7C1936.3 902.3 1942.6 899.9 1947.4 899.3C1952.3 898.8 1956.4 899.3 1960 899.3C1963.6 899.3 1967.5 899.3 1969 899.3" stroke="#000080" stroke-width="8.0" clip-path="url(#c1R)"/>
<path d="M142 706.8C143.6 706.2 147.2 704.7 151.7 702.9C156.2 701.1 162.1 696.7 169.2 695.8C176.3 694.9 187.3 694.9 194.3 697.5C201.3 700 203.4 706.7 211 711.3C218.7 715.8 232.3 722.7 240.3 725C248.3 727.3 253.6 721.8 259.1 725C264.5 728.3 268.3 741.8 272.9 744.7C277.4 747.6 281.2 741.9 286.2 742.6C291.2 743.3 298.8 748.5 302.9 748.9C307.1 749.2 307.8 748.2 311.3 744.7C314.8 741.2 317.6 732.1 323.8 728C330.1 723.8 340.5 721 348.9 719.6C357.3 718.2 367 718.9 374 719.6C380.9 720.3 385.1 723.3 390.7 723.8C396.2 724.3 403.2 723.2 407.4 722.5C411.6 721.8 413 719.7 415.7 719.6C418.5 719.5 418.2 722.3 424.1 721.7C430 721.1 445 717.5 451.3 716.3C457.5 715 457.2 712.7 461.7 714.2C466.2 715.6 472.8 722.4 478.4 725C484 727.7 489.2 727.8 495.1 730.1C501 732.3 507 738.1 513.9 738.4C520.9 738.8 530.3 732.5 536.9 732.1C543.5 731.8 548 736.7 553.6 736.3C559.2 736 564.4 730.4 570.3 730.1C576.2 729.7 582.2 734.9 589.1 734.2C596.1 733.5 604.1 727.1 612.1 725.9C620.1 724.6 628.8 724.8 637.2 726.7C645.5 728.7 656 736.2 662.2 737.6C668.5 739 669.9 734.9 674.8 735.1C679.6 735.2 685.9 738.8 691.5 738.4C697.1 738.1 701.2 733.3 708.2 733C715.2 732.6 727.8 735.6 733.3 736.3C738.7 737 739.5 737.2 740.8 737.3" stroke="#8000ff" stroke-width="8.0" clip-path="url(#c1L)"/>
<path d="M755 741.5C756.6 741.1 759.9 740.2 764.6 739C769.4 737.7 775.4 735.8 783.4 734C791.4 732.1 804 730.6 812.7 727.7C821.4 724.8 830.1 718 835.6 716.4C841.2 714.8 842.6 718.6 846.1 718.1C849.6 717.5 852.7 713.1 856.5 713.1C860.4 713.1 864.5 718.2 869.1 718.1C873.6 717.9 879.5 713.4 883.7 712.2C887.9 711.1 888.6 714.5 894.1 711C899.7 707.5 911.9 694.6 917.1 691.3C922.3 688.1 921.3 692.9 925.5 691.3C929.6 689.7 937.7 685.8 942.2 681.7C946.7 677.7 949.1 669.7 952.6 667.1C956.1 664.5 958.9 671.7 963.1 666.3C967.3 660.8 973.2 640.5 977.7 634.5C982.2 628.5 985 638.5 990.2 630.4C995.5 622.2 1004.2 592.6 1009 585.6C1013.9 578.7 1016 591.4 1019.5 588.6C1023 585.8 1026.8 572.7 1029.9 568.9C1033.1 565.2 1035.1 568.4 1038.3 566C1041.4 563.6 1045.9 556.4 1048.7 554.3C1051.5 552.2 1052.2 557.3 1055 553.5C1057.8 549.6 1062.3 534.3 1065.4 531.3C1068.6 528.3 1070.3 529.6 1073.8 535.5C1077.3 541.4 1082.5 561.8 1086.3 566.8C1090.2 571.9 1091.9 560.4 1096.8 566C1101.6 571.6 1110.3 594.4 1115.6 600.3C1120.8 606.1 1123.6 592.7 1128.1 601.1C1132.6 609.5 1136.5 634.5 1142.7 650.4C1149 666.3 1160.5 690.1 1165.7 696.4C1170.9 702.6 1170.2 697.8 1174.1 688C1177.9 678.3 1184.2 657.4 1188.7 637.9C1193.2 618.4 1197.7 587.7 1201.2 571C1204.7 554.3 1205.7 548 1209.6 537.6C1213.4 527.2 1219.7 515.2 1224.2 508.4C1228.7 501.5 1233.2 497.4 1236.7 496.7C1240.2 496 1242.3 498.1 1245.1 504.2C1247.9 510.3 1250 519.5 1253.4 533.4C1256.9 547.3 1261.8 573.5 1266 587.7C1270.1 602 1274.7 615 1278.5 619.1C1282.3 623.1 1285.1 612.2 1288.9 612C1292.8 611.8 1295.9 617.8 1301.5 617.8C1307.1 617.8 1316.8 610.4 1322.4 612C1327.9 613.6 1330.2 627.4 1334.9 627.4C1339.6 627.5 1347.2 615.2 1350.8 612.4C1354.4 609.6 1353.3 608.7 1356.3 610.7C1359.3 612.7 1364.6 621.7 1368.8 624.5C1373 627.3 1376.8 621.7 1381.3 627.4C1385.9 633.1 1392.1 652.8 1396 658.8C1399.8 664.7 1399.4 658.4 1404.3 662.9C1409.2 667.5 1419.6 681.2 1425.2 685.9C1430.8 690.7 1433.9 688.2 1437.7 691.3C1441.6 694.5 1442.3 700.5 1448.2 704.7C1454.1 708.9 1465.9 714.9 1473.2 716.4C1480.6 717.9 1486.5 714.1 1492 713.9C1497.6 713.7 1502.5 713.9 1506.7 715.2C1510.8 716.4 1509.8 714.7 1517.1 721.4C1524.4 728.2 1542.2 749.1 1550.5 755.7C1558.9 762.3 1562.4 760.6 1567.3 761.1C1572.1 761.7 1574.9 760.9 1579.8 759C1584.7 757.1 1590.2 752.6 1596.5 749.8C1602.8 747.1 1610.4 745.3 1617.4 742.3C1624.3 739.3 1632.4 734.8 1638.3 731.9C1644.2 728.9 1646.6 726.2 1652.9 724.8C1659.2 723.4 1668.6 723.2 1675.9 723.5C1683.2 723.8 1690.2 726.2 1696.8 726.4C1703.4 726.7 1710 724.6 1715.6 724.8C1721.1 725 1724.3 726.9 1730.2 727.7C1736.1 728.5 1742 727.7 1751.1 729.8C1760.1 731.9 1774.1 736.1 1784.5 740.2C1794.9 744.4 1805.4 749.6 1813.7 754.9C1822.1 760.1 1826.3 766 1834.6 771.6C1843 777.1 1854.8 783.7 1863.9 788.3C1872.9 792.8 1880.6 796.6 1888.9 798.7C1897.3 800.8 1906.4 800.3 1914 800.8C1921.7 801.3 1929.3 801.8 1934.9 801.6C1940.5 801.5 1943.3 800.3 1947.4 800C1951.6 799.7 1956.4 800 1960 800C1963.6 800 1967.5 800 1969 800" stroke="#8000ff" stroke-width="8.0" clip-path="url(#c1R)"/>
<path d="M142 565.7C143.6 566.3 147.2 567.6 151.7 569.2C156.2 570.8 162.8 573.6 169.2 575.5C175.7 577.4 184.6 579.8 190.1 580.5C195.7 581.2 197.1 577.7 202.7 579.6C208.2 581.6 217.3 587.3 223.6 592.2C229.8 597.1 234.7 605.8 240.3 608.9C245.8 612 251.5 609 257 611C262.4 612.9 268 620.6 272.9 620.6C277.7 620.6 280.5 612.2 286.2 611C291.9 609.7 301.2 615.5 307.1 613.1C313 610.6 316.2 599.3 321.7 596.4C327.3 593.4 334.6 595.7 340.5 595.5C346.5 595.4 351.7 594.3 357.3 595.5C362.8 596.7 368.4 600.4 374 602.6C379.5 604.9 385.1 608.9 390.7 608.9C396.2 608.9 401.8 605.1 407.4 602.6C413 600.2 418.5 598.5 424.1 594.3C429.7 590.1 436.3 581 440.8 577.6C445.3 574.1 446.4 573.9 451.3 573.4C456.1 572.9 464.1 572.2 470.1 574.6C476 577.1 479.1 583.2 486.8 588C494.4 592.8 508.4 601.4 516 603.5C523.7 605.6 527.2 600.5 532.7 600.5C538.3 600.5 542.5 603.6 549.4 603.5C556.4 603.3 566.1 601 574.5 599.7C582.9 598.4 589.1 596.1 599.6 595.5C610 595 628.1 595.5 637.2 596.4C646.2 597.2 646.9 600.7 653.9 600.5C660.8 600.4 671.3 596.2 678.9 595.5C686.6 594.8 693.6 595.2 699.8 596.4C706.1 597.5 711 601.2 716.5 602.6C722.1 604 729.2 604.2 733.3 604.7C737.3 605.2 739.5 605.5 740.8 605.7" stroke="#800080" stroke-width="8.0" clip-path="url(#c1L)"/>
<path d="M755 611.2C756.6 610.8 759.9 609.9 764.6 608.6C769.4 607.4 775.4 605.4 783.4 603.6C791.4 601.9 804.3 600.8 812.7 598.2C821 595.5 826.2 589.6 833.6 587.7C840.9 585.9 850.6 585.9 856.5 586.9C862.5 587.9 864.5 593.7 869.1 594C873.6 594.3 879.5 589.8 883.7 588.6C887.9 587.4 888.6 590 894.1 586.9C899.7 583.8 911.9 572.5 917.1 570.2C922.3 567.9 921.3 573.8 925.5 573.1C929.6 572.4 937.7 568.8 942.2 566C946.7 563.2 949.1 558 952.6 556.4C956.1 554.8 958.9 560.1 963.1 556.4C967.3 552.7 973.2 539.1 977.7 534.3C982.2 529.4 985.7 533.8 990.2 527.2C994.8 520.5 1001.4 500.4 1004.9 494.2C1008.3 488 1008.7 490.2 1011.1 490.1C1013.6 489.9 1016.3 495.5 1019.5 493.4C1022.6 491.3 1026.8 480.7 1029.9 477.5C1033.1 474.3 1035.1 475.4 1038.3 474.2C1041.4 472.9 1045.6 471.2 1048.7 470C1051.9 468.8 1054.1 469.7 1057.1 467.1C1060.1 464.5 1063.2 455.6 1066.7 454.5C1070.2 453.5 1074.3 456.3 1078 460.8C1081.6 465.3 1085.3 478.1 1088.4 481.7C1091.5 485.3 1092.2 478 1096.8 482.5C1101.3 487.1 1110.3 504.1 1115.6 508.9C1120.8 513.6 1123.6 504.8 1128.1 510.9C1132.6 517.1 1136.5 534.2 1142.7 546C1149 557.7 1160.1 576.6 1165.7 581.5C1171.3 586.3 1172.3 581.8 1176.1 575.2C1180 568.6 1184.8 554.2 1188.7 541.8C1192.5 529.3 1196.3 512.3 1199.1 500.5C1201.9 488.7 1203 477.9 1205.4 471.3C1207.8 464.6 1210.6 465.3 1213.7 460.8C1216.9 456.3 1220.4 448.3 1224.2 444.1C1228 439.9 1233.2 435 1236.7 435.7C1240.2 436.4 1241.6 442.4 1245.1 448.3C1248.6 454.2 1253.8 461.5 1257.6 471.3C1261.4 481 1264.6 497.2 1268.1 506.8C1271.5 516.3 1274.7 526.4 1278.5 528.4C1282.3 530.4 1287.2 520.4 1291 518.8C1294.9 517.2 1296.3 520.9 1301.5 518.8C1306.7 516.7 1316.8 507.3 1322.4 506.3C1327.9 505.2 1330.2 513.5 1334.9 512.5C1339.6 511.6 1345.5 500.7 1350.8 500.7C1356.1 500.7 1361.6 509.9 1366.7 512.5C1371.8 515.2 1376.5 511.8 1381.3 516.7C1386.2 521.6 1392.1 537 1396 541.8C1399.8 546.5 1399.4 541.5 1404.3 545.1C1409.2 548.7 1419.6 560 1425.2 563.5C1430.8 567 1433.6 563.9 1437.7 566C1441.9 568.1 1446.8 574.2 1450.3 576C1453.8 577.9 1454.8 576 1458.6 577.3C1462.5 578.5 1467.7 582.9 1473.2 583.6C1478.8 584.3 1486.5 581.6 1492 581.5C1497.6 581.3 1502.5 581.3 1506.7 582.7C1510.8 584.1 1509.8 583.1 1517.1 589.8C1524.4 596.6 1542.9 616.5 1550.5 623.2C1558.2 630 1558.2 629.4 1563.1 630.4C1567.9 631.3 1572.1 632 1579.8 628.7C1587.4 625.4 1599.3 616.1 1609 610.7C1618.8 605.3 1631 599.6 1638.3 596.1C1645.6 592.6 1647.3 590.7 1652.9 589.8C1658.5 589 1663.7 590 1671.7 591.1C1679.7 592.1 1693.3 595.6 1700.9 596.1C1708.6 596.6 1709.3 593.4 1717.7 594C1726 594.6 1740.6 597.7 1751.1 599.4C1761.5 601.2 1769.9 600.8 1780.3 604.4C1790.8 608.1 1804.7 615.9 1813.7 621.2C1822.8 626.4 1827 631 1834.6 635.8C1842.3 640.5 1851.3 645.6 1859.7 649.6C1868.1 653.5 1875.7 656.3 1884.8 659.6C1893.8 662.9 1907.1 667.8 1914 669.2C1921 670.6 1921.7 667.5 1926.5 668C1931.4 668.4 1937.7 671.9 1943.3 672.1C1948.8 672.3 1955.7 670 1960 669.2C1964.3 668.5 1967.5 667.9 1969 667.6" stroke="#800080" stroke-width="8.0" clip-path="url(#c1R)"/>
<path d="M142 453.9C143.6 455.3 148.5 459.8 151.7 462.7C154.8 465.5 155.9 469.5 160.9 471C165.9 472.6 174.8 470.5 181.8 471.9C188.7 473.3 195.7 476.6 202.7 479.4C209.6 482.2 217.3 484.7 223.6 488.6C229.8 492.4 234.7 500.5 240.3 502.4C245.8 504.2 251.5 498.7 257 499.4C262.4 500.1 268 507.1 272.9 506.5C277.7 506 280.5 498.4 286.2 496.1C291.9 493.8 300.2 494.5 307.1 492.7C314.1 491 321.7 487.7 328 485.6C334.3 483.6 338.5 480.9 344.7 480.2C351 479.5 359.3 480.4 365.6 481.5C371.9 482.6 376.7 485 382.3 486.9C387.9 488.8 393.5 492.5 399 492.7C404.6 493 410.2 489.5 415.7 488.6C421.3 487.6 426.5 489.1 432.5 486.9C438.4 484.7 445.7 476.8 451.3 475.2C456.8 473.6 460 473.5 465.9 477.3C471.8 481.1 478.8 492.6 486.8 498.2C494.8 503.8 506.3 509.7 513.9 510.7C521.6 511.8 526.8 505.4 532.7 504.4C538.6 503.5 542.5 507.2 549.4 505.3C556.4 503.3 565.4 495.7 574.5 492.7C583.6 489.8 595.4 487.7 603.7 487.7C612.1 487.7 618.7 492.2 624.6 492.7C630.6 493.3 633 489.7 639.3 491.1C645.5 492.5 656.3 499.6 662.2 501.1C668.2 502.6 669.2 499.4 674.8 500.3C680.3 501.2 688.7 506 695.7 506.5C702.6 507.1 710.3 504.2 716.5 503.6C722.8 503.1 729.2 503.3 733.3 503.2C737.3 503.1 739.5 503 740.8 503" stroke="#800000" stroke-width="8.0" clip-path="url(#c1L)"/>
<path d="M755 505.2C756.6 505.3 761.3 505.7 764.6 505.9C768 506.2 771.2 507.2 775.1 506.8C778.9 506.3 781.3 504.7 787.6 503.4C793.9 502.2 805 501.1 812.7 499.2C820.3 497.4 826.2 494.2 833.6 492.1C840.9 490.1 850.6 486.5 856.5 486.7C862.5 486.9 865.2 493.2 869.1 493.4C872.9 493.6 875.3 489.2 879.5 488C883.7 486.7 887.9 489.6 894.1 485.9C900.4 482.2 911.9 469.2 917.1 465.8C922.3 462.5 921.3 467.2 925.5 465.8C929.6 464.4 937.7 460.7 942.2 457.5C946.7 454.2 949.1 448.1 952.6 446.2C956.1 444.3 958.9 450.4 963.1 446.2C967.3 442 973.2 426 977.7 421.1C982.2 416.2 985 423.9 990.2 416.9C995.5 410 1004.2 385.3 1009 379.3C1013.9 373.4 1016 383.9 1019.5 381.4C1023 379 1026.8 368.1 1029.9 364.7C1033.1 361.4 1035.1 363.8 1038.3 361.4C1041.4 358.9 1045.9 352.3 1048.7 350.1C1051.5 347.9 1052.7 352 1055 348C1057.3 344 1060.1 330.1 1062.5 326.3C1064.9 322.5 1067 324.2 1069.6 325C1072.2 325.9 1074.8 326.4 1078 331.3C1081.1 336.2 1085.3 350.2 1088.4 354.3C1091.5 358.3 1092.2 350 1096.8 355.5C1101.3 361.1 1110.3 382 1115.6 387.7C1120.8 393.4 1123.9 382.5 1128.1 389.8C1132.3 397.1 1134.4 417.5 1140.6 431.6C1146.9 445.6 1159.8 469.4 1165.7 474.2C1171.6 478.9 1171.6 471.9 1176.1 460C1180.7 448 1188 423.1 1192.9 402.3C1197.7 381.6 1200.2 352.2 1205.4 335.5C1210.6 318.8 1219 308.9 1224.2 302C1229.4 295.2 1233.2 293.5 1236.7 294.5C1240.2 295.6 1241.9 302.2 1245.1 308.3C1248.2 314.4 1252 319.8 1255.5 331.3C1259 342.8 1261.8 364 1266 377.3C1270.1 390.5 1276.4 406.1 1280.6 410.7C1284.8 415.2 1287.6 405 1291 404.4C1294.5 403.8 1296.3 408.2 1301.5 407.3C1306.7 406.4 1316.8 399 1322.4 399C1327.9 399 1330.2 408.1 1334.9 407.3C1339.6 406.6 1346.9 396.3 1350.8 394.4C1354.7 392.5 1355 393.7 1358.4 396.1C1361.7 398.4 1367.1 405.8 1370.9 408.6C1374.7 411.4 1377.2 406.8 1381.3 412.8C1385.5 418.7 1392.1 438.5 1396 444.1C1399.8 449.7 1399.4 442.7 1404.3 446.2C1409.2 449.7 1419.6 461.5 1425.2 465C1430.8 468.5 1432.9 464.3 1437.7 467.1C1442.6 469.9 1448.2 478.6 1454.4 481.7C1460.7 484.8 1469.1 485.5 1475.3 485.9C1481.6 486.2 1486.8 483.9 1492 483.8C1497.3 483.6 1501.8 482.3 1506.7 485C1511.5 487.7 1514 493 1521.3 500C1528.6 507 1543.6 521.7 1550.5 527.2C1557.5 532.6 1558.5 531.7 1563.1 532.6C1567.6 533.5 1572.8 534.5 1577.7 532.6C1582.6 530.6 1585.7 524.5 1592.3 520.9C1598.9 517.3 1609.7 513.6 1617.4 510.9C1625 508.2 1632.4 507.5 1638.3 504.7C1644.2 501.9 1645.9 495.6 1652.9 494.2C1659.9 492.8 1672 496 1680.1 496.3C1688.1 496.7 1695 496.9 1700.9 496.3C1706.9 495.8 1710 492.5 1715.6 493C1721.1 493.5 1727.1 497.3 1734.4 499.2C1741.7 501.2 1751.1 503.3 1759.4 504.7C1767.8 506.1 1777.5 505.9 1784.5 507.6C1791.5 509.3 1793.6 510 1801.2 514.6C1808.9 519.3 1822.1 530.2 1830.5 535.5C1838.8 540.9 1842.3 542.4 1851.3 546.8C1860.4 551.2 1875 558.4 1884.8 561.8C1894.5 565.3 1901.5 566.5 1909.8 567.7C1918.2 568.9 1926.5 569.1 1934.9 568.9C1943.3 568.8 1954.3 567.3 1960 566.8C1965.7 566.4 1967.5 566.2 1969 566.1" stroke="#800000" stroke-width="8.0" clip-path="url(#c1R)"/>
<line x1="451" y1="442" x2="451" y2="1410" stroke="#000" stroke-width="8.1" stroke-dasharray="31 18.9 4.3 19.8" stroke-dashoffset="0"/>
<line x1="1067" y1="281.5" x2="1067" y2="1416.5" stroke="#000" stroke-width="8.3" stroke-dasharray="31 18.9 4.3 19.8" stroke-dashoffset="0.5"/>
<line x1="1236.5" y1="252.7" x2="1236.5" y2="1417" stroke="#000" stroke-width="9.2" stroke-dasharray="31 18.9 4.3 19.8" stroke-dashoffset="73.7"/>
<line x1="1310.2" y1="339.6" x2="1310.2" y2="1390" stroke="#000" stroke-width="8.0" stroke-dasharray="31 18.9 4.3 19.8" stroke-dashoffset="14.9"/>
<line x1="1356.2" y1="358" x2="1356.2" y2="1399" stroke="#000" stroke-width="7.8" stroke-dasharray="31 18.9 4.3 19.8" stroke-dashoffset="24.9"/>
<line x1="1506.5" y1="465.5" x2="1506.5" y2="1409" stroke="#000" stroke-width="9.0" stroke-dasharray="31 18.9 4.3 19.8" stroke-dashoffset="0.2"/>
<line x1="1653" y1="477.5" x2="1653" y2="1421" stroke="#000" stroke-width="7.8" stroke-dasharray="31 18.9 4.3 19.8" stroke-dashoffset="0"/>
<clipPath id="c2L"><rect x="150" y="0" width="582.8" height="3483"/></clipPath>
<clipPath id="c2R"><rect x="763" y="0" width="1198" height="3483"/></clipPath>
<path d="M142 453.9C143.6 455.3 148.5 459.8 151.7 462.7C154.8 465.5 155.9 469.5 160.9 471C165.9 472.6 174.8 470.5 181.8 471.9C188.7 473.3 195.7 476.6 202.7 479.4C209.6 482.2 217.3 484.7 223.6 488.6C229.8 492.4 234.7 500.5 240.3 502.4C245.8 504.2 251.5 498.7 257 499.4C262.4 500.1 268 507.1 272.9 506.5C277.7 506 280.5 498.4 286.2 496.1C291.9 493.8 300.2 494.5 307.1 492.7C314.1 491 321.7 487.7 328 485.6C334.3 483.6 338.5 480.9 344.7 480.2C351 479.5 359.3 480.4 365.6 481.5C371.9 482.6 376.7 485 382.3 486.9C387.9 488.8 393.5 492.5 399 492.7C404.6 493 410.2 489.5 415.7 488.6C421.3 487.6 426.5 489.1 432.5 486.9C438.4 484.7 445.7 476.8 451.3 475.2C456.8 473.6 460 473.5 465.9 477.3C471.8 481.1 478.8 492.6 486.8 498.2C494.8 503.8 506.3 509.7 513.9 510.7C521.6 511.8 526.8 505.4 532.7 504.4C538.6 503.5 542.5 507.2 549.4 505.3C556.4 503.3 565.4 495.7 574.5 492.7C583.6 489.8 595.4 487.7 603.7 487.7C612.1 487.7 618.7 492.2 624.6 492.7C630.6 493.3 633 489.7 639.3 491.1C645.5 492.5 656.3 499.6 662.2 501.1C668.2 502.6 669.2 499.4 674.8 500.3C680.3 501.2 688.7 506 695.7 506.5C702.6 507.1 710.3 504.2 716.5 503.6C722.8 503.1 729.2 503.3 733.3 503.2C737.3 503.1 739.5 503 740.8 503" stroke="#800000" stroke-width="8.0" clip-path="url(#c2L)"/>
<path d="M755 505.2C756.6 505.3 761.3 505.7 764.6 505.9C768 506.2 771.2 507.2 775.1 506.8C778.9 506.3 781.3 504.7 787.6 503.4C793.9 502.2 805 501.1 812.7 499.2C820.3 497.4 826.2 494.2 833.6 492.1C840.9 490.1 850.6 486.5 856.5 486.7C862.5 486.9 865.2 493.2 869.1 493.4C872.9 493.6 875.3 489.2 879.5 488C883.7 486.7 887.9 489.6 894.1 485.9C900.4 482.2 911.9 469.2 917.1 465.8C922.3 462.5 921.3 467.2 925.5 465.8C929.6 464.4 937.7 460.7 942.2 457.5C946.7 454.2 949.1 448.1 952.6 446.2C956.1 444.3 958.9 450.4 963.1 446.2C967.3 442 973.2 426 977.7 421.1C982.2 416.2 985 423.9 990.2 416.9C995.5 410 1004.2 385.3 1009 379.3C1013.9 373.4 1016 383.9 1019.5 381.4C1023 379 1026.8 368.1 1029.9 364.7C1033.1 361.4 1035.1 363.8 1038.3 361.4C1041.4 358.9 1045.9 352.3 1048.7 350.1C1051.5 347.9 1052.7 352 1055 348C1057.3 344 1060.1 330.1 1062.5 326.3C1064.9 322.5 1067 324.2 1069.6 325C1072.2 325.9 1074.8 326.4 1078 331.3C1081.1 336.2 1085.3 350.2 1088.4 354.3C1091.5 358.3 1092.2 350 1096.8 355.5C1101.3 361.1 1110.3 382 1115.6 387.7C1120.8 393.4 1123.9 382.5 1128.1 389.8C1132.3 397.1 1134.4 417.5 1140.6 431.6C1146.9 445.6 1159.8 469.4 1165.7 474.2C1171.6 478.9 1171.6 471.9 1176.1 460C1180.7 448 1188 423.1 1192.9 402.3C1197.7 381.6 1200.2 352.2 1205.4 335.5C1210.6 318.8 1219 308.9 1224.2 302C1229.4 295.2 1233.2 293.5 1236.7 294.5C1240.2 295.6 1241.9 302.2 1245.1 308.3C1248.2 314.4 1252 319.8 1255.5 331.3C1259 342.8 1261.8 364 1266 377.3C1270.1 390.5 1276.4 406.1 1280.6 410.7C1284.8 415.2 1287.6 405 1291 404.4C1294.5 403.8 1296.3 408.2 1301.5 407.3C1306.7 406.4 1316.8 399 1322.4 399C1327.9 399 1330.2 408.1 1334.9 407.3C1339.6 406.6 1346.9 396.3 1350.8 394.4C1354.7 392.5 1355 393.7 1358.4 396.1C1361.7 398.4 1367.1 405.8 1370.9 408.6C1374.7 411.4 1377.2 406.8 1381.3 412.8C1385.5 418.7 1392.1 438.5 1396 444.1C1399.8 449.7 1399.4 442.7 1404.3 446.2C1409.2 449.7 1419.6 461.5 1425.2 465C1430.8 468.5 1432.9 464.3 1437.7 467.1C1442.6 469.9 1448.2 478.6 1454.4 481.7C1460.7 484.8 1469.1 485.5 1475.3 485.9C1481.6 486.2 1486.8 483.9 1492 483.8C1497.3 483.6 1501.8 482.3 1506.7 485C1511.5 487.7 1514 493 1521.3 500C1528.6 507 1543.6 521.7 1550.5 527.2C1557.5 532.6 1558.5 531.7 1563.1 532.6C1567.6 533.5 1572.8 534.5 1577.7 532.6C1582.6 530.6 1585.7 524.5 1592.3 520.9C1598.9 517.3 1609.7 513.6 1617.4 510.9C1625 508.2 1632.4 507.5 1638.3 504.7C1644.2 501.9 1645.9 495.6 1652.9 494.2C1659.9 492.8 1672 496 1680.1 496.3C1688.1 496.7 1695 496.9 1700.9 496.3C1706.9 495.8 1710 492.5 1715.6 493C1721.1 493.5 1727.1 497.3 1734.4 499.2C1741.7 501.2 1751.1 503.3 1759.4 504.7C1767.8 506.1 1777.5 505.9 1784.5 507.6C1791.5 509.3 1793.6 510 1801.2 514.6C1808.9 519.3 1822.1 530.2 1830.5 535.5C1838.8 540.9 1842.3 542.4 1851.3 546.8C1860.4 551.2 1875 558.4 1884.8 561.8C1894.5 565.3 1901.5 566.5 1909.8 567.7C1918.2 568.9 1926.5 569.1 1934.9 568.9C1943.3 568.8 1954.3 567.3 1960 566.8C1965.7 566.4 1967.5 566.2 1969 566.1" stroke="#800000" stroke-width="8.0" clip-path="url(#c2R)"/>
<g fill="#000">
<rect x="148" y="51" width="7" height="1401.1"/>
<rect x="1955.9" y="51" width="7" height="1401.1"/>
<rect x="150" y="51" width="582" height="5.8"/>
<rect x="765" y="51" width="1195.9" height="5.8"/>
<rect x="150.5" y="1448" width="581.5" height="5.7"/>
<rect x="764" y="1448" width="1196.4" height="5.7"/>
</g>
<g stroke="#000" stroke-width="7" stroke-linecap="butt">
<line x1="717.5" y1="78.8" x2="748.1" y2="28.1"/>
<line x1="749.5" y1="78.8" x2="778.3" y2="28.1"/>
<line x1="717.7" y1="1476.3" x2="748.1" y2="1425"/>
<line x1="749.5" y1="1476.3" x2="778.3" y2="1425"/>
</g>
<g stroke="#000" stroke-width="6">
<line x1="268" y1="1450.8" x2="268" y2="1425"/>
<line x1="384.1" y1="1450.8" x2="384.1" y2="1438"/>
<line x1="500.2" y1="1450.8" x2="500.2" y2="1425"/>
<line x1="616.3" y1="1450.8" x2="616.3" y2="1438"/>
<line x1="764" y1="1450.8" x2="764" y2="1425"/>
<line x1="863.6" y1="1450.8" x2="863.6" y2="1438"/>
<line x1="963.3" y1="1450.8" x2="963.3" y2="1425"/>
<line x1="1062.9" y1="1450.8" x2="1062.9" y2="1438"/>
<line x1="1162.6" y1="1450.8" x2="1162.6" y2="1425"/>
<line x1="1262.2" y1="1450.8" x2="1262.2" y2="1438"/>
<line x1="1361.8" y1="1450.8" x2="1361.8" y2="1425"/>
<line x1="1461.5" y1="1450.8" x2="1461.5" y2="1438"/>
<line x1="1561.1" y1="1450.8" x2="1561.1" y2="1425"/>
<line x1="1660.8" y1="1450.8" x2="1660.8" y2="1438"/>
<line x1="1760.4" y1="1450.8" x2="1760.4" y2="1425"/>
<line x1="1860" y1="1450.8" x2="1860" y2="1438"/>
</g>
<text transform="matrix(0.6086 0 0 0.5597 200.4 1523.4)" font-size="100">3400</text>
<text transform="matrix(0.6086 0 0 0.5597 432.9 1523.4)" font-size="100">3200</text>
<text transform="matrix(0.6086 0 0 0.5597 695.5 1523.4)" font-size="100">2000</text>
<text transform="matrix(0.6086 0 0 0.5597 894 1523.4)" font-size="100">1800</text>
<text transform="matrix(0.6086 0 0 0.5597 1093.3 1523.4)" font-size="100">1600</text>
<text transform="matrix(0.6086 0 0 0.5597 1292.5 1523.4)" font-size="100">1400</text>
<text transform="matrix(0.6086 0 0 0.5597 1491.8 1523.4)" font-size="100">1200</text>
<text transform="matrix(0.6086 0 0 0.5597 1691.1 1523.4)" font-size="100">1000</text>
<text transform="matrix(0.6086 0 0 0.5597 1908.4 1523.4)" font-size="100">800</text>
<text transform="matrix(0.7397 0 0 0.7215 756.6 1594.5)" font-size="100">Wavenumber/cm</text>
<text transform="matrix(0.4571 0 0 0.4645 1314.2 1561.6)" font-size="100">-</text>
<text transform="matrix(0.4372 0 0 0.4073 1330.9 1559.2)" font-size="100">1</text>
<text transform="matrix(0 -0.6954 0.7211 0 118.5 1001.9)" font-size="100">Adsorbance/a.u.</text>
<text transform="matrix(0.7492 0 0 0.7244 206.7 147)" font-size="100">I=0.1</text>
<text transform="matrix(0.7273 0 0 0.6995 1835.5 144.4)" font-size="100">(a)</text>
<text transform="matrix(0.6824 0 0 0.6219 425.5 402.2)" font-size="100">3242</text>
<text transform="matrix(0.6788 0 0 0.6219 954.7 256.4)" font-size="100">1690</text>
<text transform="matrix(0.6796 0 0 0.6219 1126 228.4)" font-size="100">1525</text>
<text transform="matrix(0.6822 0 0 0.6219 1251.3 297.9)" font-size="100">1454</text>
<text transform="matrix(0.6796 0 0 0.6219 1350 359.1)" font-size="100">1405</text>
<text transform="matrix(0.6875 0 0 0.6219 1446 435.1)" font-size="100">1259</text>
<text transform="matrix(0.7035 0 0 0.6219 1631.8 453.9)" font-size="100">1107</text>
<text transform="matrix(0.5405 0 0 0.4806 250.2 466.3)" font-size="100">90min</text>
<text transform="matrix(0.5444 0 0 0.4806 236.7 579.2)" font-size="100">80min</text>
<text transform="matrix(0.5418 0 0 0.4806 204.1 694)" font-size="100">70min(Ar)</text>
<text transform="matrix(0.5444 0 0 0.4806 241.7 804.3)" font-size="100">60min</text>
<text transform="matrix(0.5424 0 0 0.4806 242.2 910.8)" font-size="100">50min</text>
<text transform="matrix(0.5388 0 0 0.4806 245.3 1019.5)" font-size="100">40min</text>
<text transform="matrix(0.5434 0 0 0.4806 237 1120.5)" font-size="100">30min</text>
<text transform="matrix(0.5441 0 0 0.4806 252.3 1232)" font-size="100">20min</text>
<text transform="matrix(0.5435 0 0 0.4806 176.7 1330.2)" font-size="100">10min(Ar+NH</text>
<text transform="matrix(0.3516 0 0 0.2827 504.3 1347.1)" font-size="100">3</text>
<text transform="matrix(0.4151 0 0 0.4806 525.7 1330.2)" font-size="100">)</text>
</g>
<g id="panelB">
<clipPath id="c3L"><rect x="136" y="0" width="592.7" height="3483"/></clipPath>
<clipPath id="c3R"><rect x="760.3" y="0" width="1218.7" height="3483"/></clipPath>
<path d="M128 3210.1C129.6 3211.2 133.4 3213.7 137.7 3216.6C142.1 3219.5 148.5 3223.3 153.9 3227.4C159.3 3231.4 164.7 3241.3 170.1 3240.9C175.5 3240.4 179.5 3231.4 186.3 3224.7C193 3218 203.8 3202.2 210.5 3200.4C217.3 3198.6 221.7 3212.1 226.7 3213.9C231.6 3215.7 234.3 3210.3 240.2 3211.2C246 3212.1 253.6 3215.7 261.7 3219.3C269.8 3222.9 281.9 3231.9 288.7 3232.8C295.4 3233.7 297.2 3225 302.2 3224.7C307.1 3224.4 312.5 3230.4 318.3 3231.2C324.2 3231.9 331.4 3227.8 337.2 3229C343 3230.2 348.9 3238 353.4 3238.2C357.9 3238.3 359.2 3234.6 364.2 3230.1C369.1 3225.6 377.6 3213 383 3211.2C388.4 3209.4 391.1 3214.5 396.5 3219.3C401.9 3224.1 410 3238.4 415.4 3239.8C420.8 3241.1 423.9 3232.1 428.8 3227.4C433.8 3222.6 440.1 3212.6 445 3211.2C450 3209.9 454.4 3215.3 458.5 3219.3C462.5 3223.3 464.8 3234.6 469.3 3235.5C473.8 3236.4 480.1 3230.5 485.4 3224.7C490.8 3218.8 496.2 3203.1 501.6 3200.4C507 3197.7 511.9 3204 517.8 3208.5C523.6 3213 529.9 3226.5 536.7 3227.4C543.4 3228.3 551.5 3217.1 558.2 3213.9C565 3210.8 571.7 3208.5 577.1 3208.5C582.5 3208.5 585.6 3213.5 590.6 3213.9C595.5 3214.4 599.6 3209.4 606.7 3211.2C613.9 3213 627 3222 633.7 3224.7C640.4 3227.4 642.2 3228.7 647.2 3227.4C652.1 3226 657.5 3218.8 663.3 3216.6C669.2 3214.4 676.4 3213 682.2 3213.9C688.1 3214.8 693 3219.5 698.4 3222C703.8 3224.5 710.1 3228.6 714.6 3229C719 3229.5 721.6 3226.2 725.3 3224.7C729 3223.2 734.8 3220.9 736.7 3220.1" stroke="#000000" stroke-width="8.3" clip-path="url(#c3L)"/>
<path d="M752.3 3219.9C753.9 3220.8 758.6 3223.4 761.7 3225C764.8 3226.7 767.6 3229.9 770.9 3230.1C774.2 3230.2 774.4 3226.2 781.3 3225.9C788.3 3225.5 804 3226.9 812.7 3228C821.4 3229 827.6 3231.2 833.6 3232.1C839.5 3233 843.3 3233.9 848.2 3233.4C853.1 3232.9 857.6 3230.3 862.8 3229.2C868 3228.1 874.3 3226.6 879.5 3226.7C884.7 3226.9 887.9 3231 894.1 3230.1C900.4 3229.1 911.2 3222.1 917.1 3220.9C923 3219.6 924.8 3221 929.6 3222.5C934.5 3224.1 940.8 3229.1 946.4 3230.1C951.9 3231 958.5 3229.2 963.1 3228C967.6 3226.7 970 3223 973.5 3222.5C977 3222 979.4 3224.8 984 3225C988.5 3225.2 996.5 3223.3 1000.7 3223.8C1004.9 3224.3 1005.5 3227.6 1009 3228C1012.5 3228.3 1017.4 3226.9 1021.6 3225.9C1025.7 3224.8 1029.6 3222.3 1034.1 3221.7C1038.6 3221.1 1044.2 3222 1048.7 3222.5C1053.2 3223.1 1057.3 3225.5 1061.3 3225C1065.2 3224.6 1068.7 3219.5 1072.5 3219.6C1076.4 3219.7 1078.8 3224.1 1084.2 3225.9C1089.7 3227.6 1099.6 3231.1 1105.1 3230.1C1110.7 3229 1112.1 3221.3 1117.7 3219.6C1123.2 3217.9 1133 3218.9 1138.5 3219.6C1144.1 3220.3 1146.9 3223.3 1151.1 3223.8C1155.3 3224.3 1158.7 3222.9 1163.6 3222.5C1168.5 3222.2 1174.8 3220.1 1180.3 3221.7C1185.9 3223.3 1192.9 3230.6 1197 3232.1C1201.2 3233.7 1202.3 3230.2 1205.4 3230.9C1208.5 3231.6 1212.4 3235.8 1215.8 3236.3C1219.3 3236.9 1222.8 3233.5 1226.3 3234.2C1229.8 3234.9 1233.2 3239.5 1236.7 3240.5C1240.2 3241.5 1243.7 3240 1247.2 3240.5C1250.7 3241 1253.4 3243.6 1257.6 3243.4C1261.8 3243.2 1267 3242.5 1272.2 3239.2C1277.5 3236 1282.7 3228.8 1288.9 3223.8C1295.2 3218.8 1303.9 3212.9 1309.8 3209.2C1315.8 3205.5 1320.3 3203 1324.5 3201.6C1328.6 3200.3 1331.4 3201.4 1334.9 3200.8C1338.4 3200.3 1342.8 3198.8 1345.4 3198.3C1347.9 3197.8 1347.4 3197.6 1350 3197.6C1352.6 3197.6 1357.2 3197.4 1360.8 3198.4C1364.4 3199.5 1367.3 3202.4 1371.6 3204C1375.9 3205.7 1381.3 3206.4 1386.7 3208.4C1392 3210.3 1399.2 3213.9 1403.9 3215.7C1408.6 3217.5 1409.3 3218.7 1414.7 3219.1C1420.1 3219.6 1430.1 3218.6 1436.3 3218.3C1442.4 3217.9 1447 3216.7 1451.3 3217C1455.7 3217.3 1458.5 3220 1462.1 3220C1465.7 3220 1469.3 3216.8 1472.9 3217C1476.5 3217.2 1478.7 3220.4 1483.7 3221.3C1488.7 3222.2 1496.3 3222.9 1503.1 3222.6C1509.9 3222.2 1518.6 3219.4 1524.7 3219.1C1530.8 3218.9 1535.1 3220.2 1539.8 3221.3C1544.4 3222.4 1547.7 3225.8 1552.7 3225.6C1557.7 3225.4 1564.9 3221.4 1569.9 3220C1575 3218.6 1579.3 3216.8 1582.9 3217C1586.5 3217.2 1588.6 3220.9 1591.5 3221.3C1594.4 3221.7 1595.5 3221.5 1600.1 3219.1C1604.8 3216.8 1613.8 3209.6 1619.5 3207.1C1625.3 3204.5 1630 3206 1634.6 3204C1639.3 3202.1 1642.9 3198.8 1647.6 3195.4C1652.2 3192 1658 3185 1662.7 3183.8C1667.3 3182.6 1672 3186.1 1675.6 3188.1C1679.2 3190 1681 3193.3 1684.2 3195.4C1687.5 3197.6 1691.4 3201 1695 3201C1698.6 3201 1702.2 3196.9 1705.8 3195.4C1709.4 3194 1712.3 3191.5 1716.6 3192.4C1720.9 3193.3 1726.6 3198.6 1731.7 3201C1736.7 3203.5 1742.5 3205.6 1746.8 3207.1C1751.1 3208.5 1754 3207.8 1757.5 3209.6C1761.1 3211.5 1764.7 3217.4 1768.3 3218.3C1771.9 3219.1 1775.5 3214.8 1779.1 3214.8C1782.7 3214.8 1786.3 3219.1 1789.9 3218.3C1793.5 3217.4 1796.7 3211.1 1800.7 3209.6C1804.6 3208.2 1808.9 3207.2 1813.6 3209.6C1818.3 3212.1 1824.8 3222.7 1828.7 3224.3C1832.7 3225.9 1834.5 3219.4 1837.3 3219.1C1840.2 3218.8 1842.7 3222.2 1846 3222.6C1849.2 3222.9 1852.8 3219.7 1856.7 3221.3C1860.7 3222.9 1865 3229.7 1869.7 3232.1C1874.3 3234.4 1880.1 3235.4 1884.8 3235.5C1889.4 3235.7 1893.4 3233.9 1897.7 3232.9C1902 3232 1906.3 3230.2 1910.6 3229.9C1915 3229.6 1920 3230.1 1923.6 3231.2C1927.2 3232.3 1928.6 3235 1932.2 3236.4C1935.8 3237.8 1940.8 3240 1945.1 3239.8C1949.5 3239.7 1952.7 3236 1958.1 3235.5C1963.5 3235.1 1972.7 3236.8 1977.5 3237.3C1982.3 3237.7 1985.4 3238 1987 3238.1" stroke="#000000" stroke-width="8.3" clip-path="url(#c3R)"/>
<path d="M128 3080.3C129.9 3081 134.7 3082.9 139.2 3084.7C143.7 3086.5 149.6 3086.9 155.1 3091C160.5 3095 166.6 3107.9 171.8 3108.9C177 3110 181.5 3100 186.4 3097.3C191.3 3094.5 196.5 3094.2 201 3092.2C205.6 3090.3 208.7 3083.7 213.6 3085.6C218.4 3087.4 225.7 3101.2 230.3 3103.5C234.8 3105.8 236.9 3098.3 240.7 3099.3C244.5 3100.4 249.4 3107.7 253.2 3109.8C257.1 3111.9 260.2 3112 263.7 3111.9C267.2 3111.7 269.6 3106.7 274.1 3108.9C278.7 3111.2 286.7 3123.1 290.8 3125.7C295 3128.2 295 3121.1 299.2 3124.4C303.4 3127.7 310.7 3143.2 315.9 3145.3C321.1 3147.4 325.3 3139.5 330.5 3136.9C335.8 3134.4 342 3132.3 347.3 3129.8C352.5 3127.4 357 3124.3 361.9 3122.3C366.7 3120.4 371.6 3121.1 376.5 3118.1C381.4 3115.2 386.9 3106.5 391.1 3104.8C395.3 3103 396.7 3103.4 401.6 3107.7C406.4 3112 415.5 3127.5 420.4 3130.7C425.2 3133.8 427.7 3127.3 430.8 3126.5C433.9 3125.7 437.1 3128.3 439.2 3125.7C441.3 3123 440.9 3112.9 443.3 3110.6C445.8 3108.3 448.2 3109.9 453.8 3111.9C459.4 3113.8 469.5 3122.8 476.8 3122.3C484.1 3121.8 492.1 3111.4 497.7 3108.9C503.2 3106.5 506.4 3109.3 510.2 3107.7C514 3106.1 516.1 3099.3 520.6 3099.3C525.2 3099.3 531.8 3104.9 537.3 3107.7C542.9 3110.5 549.5 3115.8 554.1 3116.1C558.6 3116.3 559.6 3109.6 564.5 3108.9C569.4 3108.3 576.7 3110.3 583.3 3111.9C589.9 3113.4 598.3 3117.4 604.2 3118.1C610.1 3118.8 614.3 3115 618.8 3116.1C623.3 3117.1 626.8 3121.8 631.3 3124.4C635.9 3127 640.4 3132.2 646 3131.5C651.5 3130.8 660.2 3122.3 664.8 3120.2C669.3 3118.1 670 3121.1 673.1 3119C676.3 3116.9 680.4 3109.1 683.6 3107.7C686.7 3106.3 689.5 3111 691.9 3110.6C694.4 3110.3 694 3105.4 698.2 3105.6C702.4 3105.8 711.8 3111.2 717 3111.9C722.2 3112.6 726.2 3110.3 729.5 3109.8C732.8 3109.2 735.5 3108.8 736.7 3108.6" stroke="#ff0000" stroke-width="8.3" clip-path="url(#c3L)"/>
<path d="M752.3 3118.9C753.9 3118.8 757.1 3118.5 761.7 3118.1C766.3 3117.7 775.1 3115.9 780.1 3116.4C785.1 3117 786.7 3120.2 791.8 3121.4C796.9 3122.6 805.4 3123.9 810.6 3123.5C815.8 3123.2 819.3 3120.7 823.1 3119.3C826.9 3117.9 828.7 3116.2 833.6 3115.2C838.4 3114.1 846.1 3112.9 852.4 3113.1C858.6 3113.3 866.1 3117.7 871.2 3116.4C876.2 3115.2 879 3106.9 882.9 3105.6C886.7 3104.2 890.2 3108.5 894.1 3108.1C898.1 3107.6 903.2 3103.2 906.7 3102.6C910.2 3102.1 911.9 3106.3 915 3104.7C918.2 3103.1 922 3094.1 925.5 3093C929 3092 931.4 3097.3 935.9 3098.5C940.4 3099.6 948.1 3101.1 952.6 3099.7C957.2 3098.3 958.4 3094.3 963.1 3090.1C967.7 3085.9 975.4 3076.7 980.6 3074.6C985.8 3072.5 990.4 3078.5 994.4 3077.6C998.4 3076.7 1002.1 3070.9 1004.9 3069.2C1007.6 3067.5 1008.3 3069 1011.1 3067.1C1013.9 3065.2 1017.7 3058.8 1021.6 3057.9C1025.4 3057.1 1029.9 3061.1 1034.1 3062.1C1038.3 3063.1 1042.8 3065.4 1046.6 3063.8C1050.5 3062.2 1053.9 3054.7 1057.1 3052.5C1060.2 3050.3 1062.9 3051.8 1065.4 3050.4C1068 3049 1070.1 3044.1 1072.5 3044.1C1075 3044.1 1077.1 3046.9 1080.1 3050.4C1083 3053.9 1087 3060.5 1090.5 3065C1094 3069.6 1097.5 3075.1 1100.9 3077.6C1104.4 3080 1107.6 3080.6 1111.4 3079.6C1115.2 3078.7 1119.4 3071.4 1123.9 3072.1C1128.4 3072.8 1134 3079.8 1138.5 3083.8C1143.1 3087.9 1147.2 3092.5 1151.1 3096.4C1154.9 3100.2 1158 3104.9 1161.5 3106.8C1165 3108.8 1168.5 3109.1 1172 3108.1C1175.4 3107 1178.2 3104.2 1182.4 3100.5C1186.6 3096.8 1193.2 3089.3 1197 3085.9C1200.9 3082.6 1202.6 3083.8 1205.4 3080.5C1208.2 3077.2 1210.3 3069.6 1213.7 3066.3C1217.2 3063 1222.5 3063.4 1226.3 3060.8C1230.1 3058.3 1233.6 3051 1236.7 3051.2C1239.9 3051.4 1241.9 3059.1 1245.1 3062.1C1248.2 3065.1 1251.7 3065.2 1255.5 3069.2C1259.4 3073.2 1264.4 3081.3 1268.1 3085.9C1271.7 3090.6 1273.8 3097.5 1277.3 3097.2C1280.7 3096.8 1285.3 3088.8 1288.9 3083.8C1292.6 3078.8 1296.3 3072.5 1299.4 3067.1C1302.5 3061.7 1304.1 3054.6 1307.7 3051.2C1311.4 3047.9 1317.7 3047.2 1321.5 3047.1C1325.4 3046.9 1326.8 3051.4 1330.7 3050.4C1334.7 3049.4 1342.1 3042.6 1345.4 3041.2C1348.6 3039.9 1347.4 3041.3 1350 3042.3C1352.6 3043.4 1357.2 3045.7 1360.8 3047.5C1364.4 3049.3 1368 3051.9 1371.6 3053.1C1375.2 3054.2 1378.8 3053.5 1382.3 3054.4C1385.9 3055.3 1387.7 3055.7 1393.1 3058.7C1398.5 3061.7 1410 3070.6 1414.7 3072.5C1419.4 3074.4 1418.3 3069.3 1421.2 3070.4C1424 3071.4 1428.3 3077.5 1431.9 3079C1435.5 3080.4 1439.5 3077.8 1442.7 3079C1446 3080.2 1448.1 3084.9 1451.3 3086.3C1454.6 3087.7 1457.8 3086.3 1462.1 3087.6C1466.4 3088.9 1471.5 3092.8 1477.2 3094.1C1483 3095.3 1490.9 3094.1 1496.6 3094.9C1502.4 3095.8 1507.4 3098.3 1511.7 3099.2C1516 3100.2 1517.8 3099.4 1522.5 3100.5C1527.2 3101.7 1534.4 3102.8 1539.8 3106.1C1545.1 3109.5 1549.8 3118.5 1554.9 3120.8C1559.9 3123.1 1564.9 3119.7 1569.9 3119.9C1575 3120.2 1580 3120.5 1585 3122.1C1590.1 3123.7 1595.5 3129.1 1600.1 3129.4C1604.8 3129.8 1608.8 3125.8 1613.1 3124.3C1617.4 3122.7 1622.1 3122.1 1626 3119.9C1630 3117.8 1633.6 3114.6 1636.8 3111.3C1640 3108.1 1642.2 3102.7 1645.4 3100.5C1648.7 3098.4 1653.1 3100.2 1656.2 3098.4C1659.3 3096.6 1661.4 3089.9 1664 3089.8C1666.5 3089.6 1669 3096.8 1671.3 3097.5C1673.6 3098.2 1675.1 3093.4 1677.8 3094.1C1680.4 3094.8 1683.7 3101.5 1687.3 3101.8C1690.8 3102.2 1695.9 3097.4 1699.3 3096.2C1702.8 3095.1 1704.7 3096.6 1708 3094.9C1711.2 3093.3 1715.5 3086.8 1718.7 3086.3C1722 3085.8 1724.1 3091.7 1727.4 3091.9C1730.6 3092.1 1734.9 3088.8 1738.1 3087.6C1741.4 3086.4 1743.9 3085.1 1746.8 3084.6C1749.6 3084.1 1751.4 3083.1 1755.4 3084.6C1759.3 3086 1765.1 3090.5 1770.5 3093.2C1775.9 3095.9 1783.1 3101.7 1787.7 3100.5C1792.4 3099.4 1794.9 3089 1798.5 3086.3C1802.1 3083.6 1806.1 3084.2 1809.3 3084.6C1812.5 3085 1815 3085.9 1817.9 3088.9C1820.8 3091.9 1823.3 3102.6 1826.5 3102.7C1829.8 3102.8 1834.1 3091.2 1837.3 3089.8C1840.6 3088.3 1842.7 3093 1846 3094.1C1849.2 3095.1 1853.5 3091.2 1856.7 3096.2C1860 3101.3 1862.5 3119 1865.4 3124.3C1868.2 3129.5 1870.8 3127.7 1874 3127.7C1877.2 3127.7 1880.8 3125.2 1884.8 3124.3C1888.7 3123.3 1893.8 3121.7 1897.7 3122.1C1901.7 3122.5 1904.9 3125 1908.5 3126.4C1912.1 3127.9 1915.7 3128.8 1919.3 3130.7C1922.9 3132.7 1926.1 3135.9 1930.1 3138.1C1934 3140.2 1939 3143.8 1943 3143.7C1946.9 3143.5 1949.8 3138.1 1953.8 3137.2C1957.7 3136.3 1962.8 3138.2 1966.7 3138.1C1970.7 3137.9 1974.1 3136.9 1977.5 3136.3C1980.9 3135.8 1985.4 3135.1 1987 3134.8" stroke="#ff0000" stroke-width="8.3" clip-path="url(#c3R)"/>
<path d="M128 2958.6C129.9 2960.5 135.7 2965.5 139.2 2969.8C142.7 2974.1 144.8 2979.9 148.8 2984.4C152.8 2989 159.2 2992.1 163.4 2997C167.6 3001.9 170.4 3012.9 173.9 3013.7C177.3 3014.5 180.8 3003.7 184.3 3002C187.8 3000.3 190.2 3006 194.8 3003.2C199.3 3000.5 206.6 2986.7 211.5 2985.3C216.3 2983.9 219.5 2990.2 224 2994.9C228.5 2999.6 234.1 3007.4 238.6 3013.7C243.2 3020 247.3 3028.3 251.2 3032.5C255 3036.7 257.1 3038.6 261.6 3038.8C266.1 3039 273.4 3032.9 278.3 3033.7C283.2 3034.6 287 3043.1 290.8 3043.8C294.7 3044.5 297.5 3039.1 301.3 3037.9C305.1 3036.7 310.2 3039.3 313.8 3036.7C317.4 3034 319.5 3023.1 323 3022C326.5 3021 330.7 3027.6 334.7 3030.4C338.8 3033.2 343.1 3037.9 347.3 3038.8C351.4 3039.6 354.9 3039.6 359.8 3035.4C364.7 3031.2 371.5 3020.4 376.5 3013.7C381.5 3006.9 385.7 2996.6 389.9 2994.9C394 2993.2 396.5 2999.4 401.6 3003.2C406.6 3007.1 415.5 3016.3 420.4 3017.9C425.2 3019.5 427 3015.1 430.8 3012.9C434.6 3010.6 439.5 3005.4 443.3 3004.5C447.2 3003.6 450.3 3005.5 453.8 3007.4C457.3 3009.3 460.1 3014 464.2 3015.8C468.4 3017.5 475 3019.3 478.9 3017.9C482.7 3016.5 483.7 3009.7 487.2 3007.4C490.7 3005.2 496.3 3004.2 499.7 3004.5C503.2 3004.8 505.3 3008.8 508.1 3009.5C510.9 3010.2 513.3 3006.9 516.5 3008.7C519.6 3010.4 523.4 3015.6 526.9 3020C530.4 3024.3 533.2 3033.5 537.3 3034.6C541.5 3035.6 547.4 3030.3 552 3026.2C556.5 3022.2 560.7 3014.5 564.5 3010.4C568.3 3006.2 571.5 3001.2 574.9 3001.2C578.4 3001.2 580.9 3006.5 585.4 3010.4C589.9 3014.2 597.6 3021.5 602.1 3024.1C606.6 3026.8 608.7 3026.9 612.5 3026.2C616.4 3025.5 620.9 3020.7 625.1 3020C629.3 3019.3 633.4 3022.5 637.6 3022C641.8 3021.6 646 3019.8 650.1 3017C654.3 3014.2 659.2 3007.1 662.7 3005.3C666.2 3003.5 668 3007.7 671 3006.2C674 3004.6 677.2 2996.3 680.6 2996.1C684.1 2996 688 3004.2 691.9 3005.3C695.9 3006.5 700.6 3001.3 704.5 3003.2C708.3 3005.2 710.7 3014 714.9 3017C719.1 3020 725.9 3020.2 729.5 3021.2C733.2 3022.3 735.5 3022.9 736.7 3023.3" stroke="#0000ff" stroke-width="8.3" clip-path="url(#c3L)"/>
<path d="M752.3 3014.9C753.9 3014.9 757.9 3014.9 761.7 3014.9C765.5 3014.9 772 3015.2 775.1 3014.9C778.1 3014.5 777.3 3011.9 780.1 3012.8C782.9 3013.7 787.7 3020.7 791.8 3020.3C795.8 3020 800.8 3012 804.3 3010.7C807.8 3009.5 809.5 3012.3 812.7 3012.8C815.8 3013.3 820.3 3014.3 823.1 3013.6C825.9 3012.9 827.3 3008.9 829.4 3008.6C831.5 3008.3 831.8 3012.1 835.6 3012C839.5 3011.8 847.8 3008.2 852.4 3007.8C856.9 3007.4 859.3 3008.6 862.8 3009.5C866.3 3010.3 869.9 3015.2 873.2 3012.8C876.6 3010.4 879.4 2997.5 882.9 2995.3C886.3 2993 890.2 3001.2 894.1 2999.4C898.1 2997.6 903.2 2985.6 906.7 2984.4C910.2 2983.1 911.9 2993.6 915 2991.9C918.2 2990.2 922 2975.4 925.5 2974.4C929 2973.3 931.4 2984 935.9 2985.6C940.4 2987.3 948.5 2987.2 952.6 2984.4C956.8 2981.6 957.9 2972.9 961 2968.9C964.1 2965 968.2 2964.4 971.4 2960.6C974.7 2956.7 977.8 2947 980.6 2946C983.4 2944.9 985.5 2954 988.1 2954.3C990.8 2954.7 993.7 2951.9 996.5 2948C999.3 2944.2 1002.4 2934.6 1004.9 2931.3C1007.3 2928.1 1008.5 2932.1 1011.1 2928.4C1013.8 2924.7 1017.9 2911.5 1020.7 2909.2C1023.5 2906.9 1025.6 2914.2 1027.8 2914.6C1030.1 2915 1031.7 2911.3 1034.1 2911.7C1036.5 2912 1040 2916.6 1042.5 2916.7C1044.9 2916.9 1046.6 2917.7 1048.7 2912.5C1050.8 2907.4 1052.5 2890.9 1055 2885.9C1057.4 2880.9 1060.6 2884.3 1063.3 2882.5C1066.1 2880.8 1068.9 2874.2 1071.7 2875.4C1074.5 2876.7 1077.3 2883.2 1080.1 2890.1C1082.8 2896.9 1085.6 2909.8 1088.4 2916.7C1091.2 2923.6 1094 2929.1 1096.8 2931.3C1099.6 2933.6 1102.7 2928.7 1105.1 2930.1C1107.6 2931.5 1109.2 2939.7 1111.4 2939.7C1113.6 2939.7 1116.1 2931.8 1118.5 2930.1C1120.9 2928.3 1123.4 2926.6 1126 2929.2C1128.7 2931.9 1131.6 2941.8 1134.4 2946C1137.2 2950.1 1139.9 2950.1 1142.7 2954.3C1145.5 2958.5 1147.9 2964.8 1151.1 2971C1154.2 2977.3 1158.4 2986.5 1161.5 2991.9C1164.7 2997.3 1166.7 3003.6 1169.9 3003.6C1173 3003.6 1176.8 2997.3 1180.3 2991.9C1183.8 2986.5 1187.6 2980.1 1190.8 2971C1193.9 2962 1196.7 2945.3 1199.1 2937.6C1201.6 2929.9 1203 2933 1205.4 2925.1C1207.8 2917.1 1211.3 2897.3 1213.7 2890.1C1216.2 2882.8 1217.9 2881 1220 2881.7C1222.1 2882.4 1224.4 2893.9 1226.3 2894.2C1228.2 2894.6 1229.6 2887.8 1231.3 2883.8C1233 2879.7 1234.8 2869.3 1236.7 2870C1238.7 2870.7 1241.3 2883.9 1243 2888C1244.7 2892 1245.8 2893.5 1247.2 2894.2C1248.6 2894.9 1249.3 2890.4 1251.3 2892.1C1253.4 2893.9 1257.3 2899.2 1259.7 2904.7C1262.1 2910.2 1263.9 2918.9 1266 2925.1C1268.1 2931.3 1270.4 2934.8 1272.2 2941.8C1274.1 2948.7 1275.2 2965.1 1277.3 2966.8C1279.3 2968.6 1282.1 2955.4 1284.8 2952.2C1287.4 2949.1 1290.3 2952.6 1293.1 2948C1295.9 2943.5 1299 2931.1 1301.5 2925.1C1303.9 2919 1305.7 2914.5 1307.7 2911.7C1309.8 2908.9 1311.7 2909.6 1314 2908.4C1316.3 2907.1 1318.8 2902.9 1321.5 2904.2C1324.3 2905.4 1327.1 2915.9 1330.7 2915.9C1334.3 2915.9 1340 2906 1343.3 2904.2C1346.5 2902.4 1347.1 2906.5 1350 2905C1352.9 2903.6 1357.2 2895 1360.8 2895.5C1364.4 2896.1 1368 2905.6 1371.6 2908.5C1375.2 2911.4 1379.1 2910 1382.3 2912.9C1385.6 2915.8 1387.4 2921.2 1391 2925.9C1394.6 2930.5 1400 2936.3 1403.9 2941C1407.9 2945.6 1411.8 2952.5 1414.7 2953.9C1417.6 2955.3 1418.3 2948.2 1421.2 2949.6C1424 2951 1428.7 2961.1 1431.9 2962.5C1435.2 2964 1437.3 2956.8 1440.6 2958.2C1443.8 2959.7 1447.8 2968.3 1451.3 2971.2C1454.9 2974 1458.2 2973.5 1462.1 2975.5C1466.1 2977.4 1470.8 2980.6 1475.1 2982.8C1479.4 2985 1484.1 2987.3 1488 2988.4C1492 2989.6 1495.2 2988.8 1498.8 2989.7C1502.4 2990.6 1503.5 2992.6 1509.6 2994C1515.7 2995.5 1528.3 2995 1535.4 2998.3C1542.6 3001.7 1547.3 3009.5 1552.7 3014.3C1558.1 3019.1 1562.4 3025.3 1567.8 3027.2C1573.2 3029.2 1579.6 3027.7 1585 3025.9C1590.4 3024.1 1595.5 3019.1 1600.1 3016.4C1604.8 3013.8 1608 3013.2 1613.1 3010C1618.1 3006.7 1624.6 3002.6 1630.3 2997C1636.1 2991.5 1642.2 2981.1 1647.6 2976.8C1653 2972.5 1658.7 2971.7 1662.7 2971.2C1666.6 2970.6 1668.8 2973.3 1671.3 2973.3C1673.8 2973.3 1674.9 2971 1677.8 2971.2C1680.6 2971.3 1685 2974.9 1688.5 2974.2C1692.1 2973.5 1696.1 2967.6 1699.3 2966.8C1702.6 2966.1 1705.2 2970.9 1708 2969.9C1710.7 2968.8 1712.8 2961.2 1715.7 2960.4C1718.6 2959.5 1721.8 2964.1 1725.2 2964.7C1728.6 2965.3 1732.4 2963.3 1736 2963.8C1739.6 2964.4 1743.9 2968 1746.8 2968.1C1749.6 2968.3 1750.4 2963.8 1753.2 2964.7C1756.1 2965.6 1760.1 2971 1764 2973.3C1768 2975.6 1773 2975.3 1777 2978.5C1780.9 2981.7 1784.5 2992.9 1787.7 2992.7C1791 2992.6 1791.7 2980 1796.4 2977.6C1801 2975.3 1810.7 2974.2 1815.8 2978.5C1820.8 2982.8 1823 3001.5 1826.5 3003.5C1830.1 3005.5 1834.1 2992 1837.3 2990.6C1840.6 2989.1 1842.7 2994 1846 2994.9C1849.2 2995.7 1853.5 2990 1856.7 2995.7C1860 3001.5 1861.8 3023.9 1865.4 3029.4C1869 3034.8 1874.7 3027.9 1878.3 3028.5C1881.9 3029.1 1884.1 3032.8 1886.9 3032.8C1889.8 3032.8 1892 3027.8 1895.6 3028.5C1899.1 3029.2 1904.5 3035.9 1908.5 3037.1C1912.4 3038.4 1915.7 3034.3 1919.3 3035.8C1922.9 3037.4 1926.8 3044.8 1930.1 3046.6C1933.3 3048.4 1935.8 3045.2 1938.7 3046.6C1941.6 3048.1 1944.1 3054.7 1947.3 3055.3C1950.5 3055.8 1954.5 3050.8 1958.1 3050.1C1961.7 3049.4 1965.6 3051.5 1968.9 3050.9C1972.1 3050.4 1974.5 3048.1 1977.5 3046.6C1980.5 3045.1 1985.4 3042.7 1987 3041.9" stroke="#0000ff" stroke-width="8.3" clip-path="url(#c3R)"/>
<path d="M128 2881.1C129.9 2882.7 136.1 2887.8 139.2 2890.4C142.3 2893 144.1 2895.7 146.7 2896.7C149.4 2897.8 151.2 2899.1 155.1 2896.7C158.9 2894.3 165.5 2885.6 169.7 2882.1C173.9 2878.6 176.3 2876.7 180.1 2875.8C184 2874.9 188.5 2874.6 192.7 2876.7C196.8 2878.7 201.7 2888.4 205.2 2888.4C208.7 2888.4 209.7 2877.4 213.6 2876.7C217.4 2876 223.3 2881.5 228.2 2884.2C233.1 2886.8 239 2888.4 242.8 2892.5C246.6 2896.7 248 2904.4 251.2 2909.2C254.3 2914.1 258.1 2921.1 261.6 2921.8C265.1 2922.5 267.9 2912 272 2913.4C276.2 2914.8 282.1 2928.2 286.7 2930.1C291.2 2932.1 295 2922.3 299.2 2925.1C303.4 2927.9 307.9 2945 311.7 2946.8C315.6 2948.7 318 2938.5 322.2 2936.4C326.4 2934.3 332.6 2935.7 336.8 2934.3C341 2932.9 343.8 2928.4 347.3 2928C350.7 2927.7 354.2 2934 357.7 2932.2C361.2 2930.5 365 2922 368.1 2917.6C371.3 2913.2 373 2908.3 376.5 2905.9C380 2903.5 385.2 2901.4 389 2903C392.9 2904.6 395.3 2911.7 399.5 2915.5C403.7 2919.3 409.6 2924.4 414.1 2926C418.6 2927.6 422.1 2926.5 426.6 2925.1C431.2 2923.7 436.7 2921.6 441.3 2917.6C445.8 2913.6 447.9 2904.5 453.8 2900.9C459.7 2897.3 469.1 2896.9 476.8 2895.9C484.4 2894.8 493.5 2893.1 499.7 2894.6C506 2896.2 508.8 2900.7 514.4 2905.1C519.9 2909.5 527.6 2919 533.2 2920.9C538.7 2922.9 542.6 2919.8 547.8 2916.8C553 2913.8 560.3 2906.3 564.5 2903C568.7 2899.6 569.7 2897.1 572.9 2896.7C576 2896.4 579.8 2900.3 583.3 2900.9C586.8 2901.4 589.6 2898.5 593.7 2900.1C597.9 2901.6 604.2 2908 608.4 2910.1C612.5 2912.2 615.3 2910.3 618.8 2912.6C622.3 2914.9 625.1 2920.8 629.3 2923.9C633.4 2926.9 639.4 2931.7 643.9 2931C648.4 2930.3 652.2 2923 656.4 2919.7C660.6 2916.4 664.4 2914.8 668.9 2911.3C673.5 2907.9 679.4 2900.2 683.6 2898.8C687.7 2897.4 690.5 2902.6 694 2903C697.5 2903.3 700.3 2900.2 704.5 2900.9C708.6 2901.6 714.9 2906.6 719.1 2907.2C723.3 2907.7 726.6 2905.1 729.5 2904.2C732.5 2903.4 735.5 2902.6 736.7 2902.2" stroke="#ff00ff" stroke-width="8.3" clip-path="url(#c3L)"/>
<path d="M752.3 2906.7C753.9 2907.4 758.6 2909.5 761.7 2910.9C764.8 2912.4 767.8 2915.8 770.9 2915.1C774 2914.4 776.6 2907.1 780.1 2906.8C783.6 2906.4 787.7 2913.6 791.8 2913C795.8 2912.5 800.8 2904.1 804.3 2903.4C807.8 2902.7 808.5 2911.1 812.7 2908.9C816.8 2906.6 825.6 2892.1 829.4 2890.1C833.2 2888 831.8 2896 835.6 2896.3C839.5 2896.7 847.8 2892.5 852.4 2892.1C856.9 2891.8 859.3 2892.8 862.8 2894.2C866.3 2895.6 869.9 2902.6 873.2 2900.5C876.6 2898.4 879.4 2882.9 882.9 2881.7C886.3 2880.5 890.2 2895.8 894.1 2893.4C898.1 2891 903.5 2870.1 906.7 2867.1C909.8 2864.1 910.5 2877 912.9 2875.4C915.4 2873.8 918.9 2861.3 921.3 2857.5C923.7 2853.6 925.1 2850.4 927.6 2852.5C930 2854.5 931.7 2867.2 935.9 2870C940.1 2872.8 948.5 2872.8 952.6 2869.2C956.8 2865.5 957.5 2853.8 961 2848.3C964.5 2842.7 970.2 2841.7 973.5 2835.7C976.8 2829.8 978.2 2814.9 980.6 2812.8C983.1 2810.7 985.5 2822.9 988.1 2823.2C990.8 2823.6 994.1 2821.5 996.5 2814.9C998.9 2808.2 1000.3 2789.8 1002.8 2783.5C1005.2 2777.3 1008.3 2782.8 1011.1 2777.3C1013.9 2771.7 1016.7 2753.6 1019.5 2750.1C1022.3 2746.6 1025.4 2755.9 1027.8 2756.4C1030.3 2756.8 1031.7 2751.8 1034.1 2753C1036.5 2754.3 1040 2761.6 1042.5 2763.9C1044.9 2766.2 1047 2770.1 1048.7 2766.8C1050.5 2763.5 1051.5 2751.5 1052.9 2743.8C1054.3 2736.2 1055 2725 1057.1 2720.8C1059.2 2716.7 1062.6 2721.5 1065.4 2718.8C1068.2 2716 1071.3 2703.8 1073.8 2704.1C1076.2 2704.5 1078 2712.5 1080.1 2720.8C1082.1 2729.2 1083.9 2744.9 1086.3 2754.3C1088.8 2763.7 1092.2 2771.7 1094.7 2777.3C1097.1 2782.8 1098.9 2788 1100.9 2787.7C1103 2787.3 1105.3 2775.2 1107.2 2775.2C1109.2 2775.2 1110.8 2787.7 1112.6 2787.7C1114.5 2787.7 1116.3 2776.9 1118.5 2775.2C1120.7 2773.4 1123.4 2772.4 1126 2777.3C1128.7 2782.1 1131.6 2798.1 1134.4 2804.4C1137.2 2810.7 1139.9 2808.9 1142.7 2814.9C1145.5 2820.8 1147.9 2832.3 1151.1 2839.9C1154.2 2847.6 1158 2853.1 1161.5 2860.8C1165 2868.5 1168.8 2884.5 1172 2885.9C1175.1 2887.3 1177.2 2877.5 1180.3 2869.2C1183.5 2860.8 1187.6 2849.7 1190.8 2835.7C1193.9 2821.8 1196.7 2798.1 1199.1 2785.6C1201.6 2773.1 1203.3 2771 1205.4 2760.5C1207.5 2750.1 1209.2 2732.3 1211.7 2722.9C1214.1 2713.5 1217.6 2704.5 1220 2704.1C1222.5 2703.8 1224.4 2721.2 1226.3 2720.8C1228.2 2720.5 1229.6 2708.7 1231.3 2702C1233 2695.4 1234.8 2681.2 1236.7 2681.2C1238.7 2681.2 1241.3 2696.1 1243 2702C1244.7 2708 1245.8 2716.3 1247.2 2716.7C1248.6 2717 1249.3 2703.4 1251.3 2704.1C1253.4 2704.8 1257.3 2712.1 1259.7 2720.8C1262.1 2729.6 1263.9 2744.9 1266 2756.4C1268.1 2767.9 1270.1 2777.9 1272.2 2789.8C1274.3 2801.6 1276.4 2823.2 1278.5 2827.4C1280.6 2831.6 1282 2817.6 1284.8 2814.9C1287.6 2812.1 1292.4 2817.6 1295.2 2810.7C1298 2803.7 1299.4 2782.1 1301.5 2773.1C1303.6 2764 1305.7 2757.1 1307.7 2756.4C1309.8 2755.7 1311.7 2768.5 1314 2768.9C1316.3 2769.2 1318.8 2756 1321.5 2758.5C1324.3 2760.9 1327.1 2783.2 1330.7 2783.5C1334.3 2783.9 1340 2762.7 1343.3 2760.5C1346.5 2758.4 1347.1 2770.5 1350 2770.5C1352.9 2770.5 1357.5 2760.3 1360.8 2760.5C1364 2760.8 1365.8 2769.8 1369.4 2772.2C1373 2774.6 1378.8 2771.3 1382.3 2774.8C1385.9 2778.2 1387.4 2787 1391 2792.9C1394.6 2798.8 1400 2804 1403.9 2810.1C1407.9 2816.2 1411.8 2826.7 1414.7 2829.5C1417.6 2832.4 1418.3 2824.9 1421.2 2827.4C1424 2829.9 1428.7 2842.3 1431.9 2844.6C1435.2 2846.9 1437.3 2839 1440.6 2841.2C1443.8 2843.3 1447.8 2853.8 1451.3 2857.6C1454.9 2861.4 1458.2 2861.2 1462.1 2864C1466.1 2866.9 1470.8 2872.9 1475.1 2874.8C1479.4 2876.8 1484.1 2875 1488 2875.7C1492 2876.4 1494.1 2877.8 1498.8 2879.1C1503.5 2880.4 1509.9 2880.6 1516 2883.5C1522.1 2886.3 1529.3 2892.2 1535.4 2896.4C1541.6 2900.6 1548.4 2905.9 1552.7 2908.5C1557 2911 1557 2911 1561.3 2911.5C1565.6 2912 1573.2 2912.2 1578.6 2911.5C1584 2910.8 1587.9 2910.4 1593.7 2907.2C1599.4 2903.9 1607.7 2896.9 1613.1 2892.1C1618.5 2887.3 1620.3 2885.8 1626 2878.3C1631.8 2870.7 1641.5 2854.6 1647.6 2846.8C1653.7 2839 1657.6 2832.4 1662.7 2831.7C1667.7 2831 1673.1 2840.3 1677.8 2842.5C1682.4 2844.6 1686 2844.3 1690.7 2844.6C1695.4 2845 1701.6 2845.9 1705.8 2844.6C1710 2843.3 1712.8 2837.2 1715.7 2836.9C1718.6 2836.5 1719.7 2843 1723 2842.5C1726.4 2842 1732 2833.5 1736 2833.9C1739.9 2834.2 1742.1 2839.6 1746.8 2844.6C1751.4 2849.7 1758.6 2860.1 1764 2864C1769.4 2868 1774.8 2865.5 1779.1 2868.4C1783.4 2871.2 1787 2882 1789.9 2881.3C1792.8 2880.6 1793.5 2867.3 1796.4 2864C1799.2 2860.8 1803.5 2861.2 1807.1 2861.9C1810.7 2862.6 1814.3 2863.2 1817.9 2868.4C1821.5 2873.5 1825.5 2891 1828.7 2892.9C1831.9 2894.9 1834.5 2881.4 1837.3 2880C1840.2 2878.6 1842.7 2883 1846 2884.3C1849.2 2885.6 1853.5 2881.6 1856.7 2887.8C1860 2894 1862.1 2914.3 1865.4 2921.6C1868.6 2928.8 1872.6 2928.3 1876.1 2931.1C1879.7 2933.8 1883.7 2937 1886.9 2938C1890.2 2938.9 1892 2935.7 1895.6 2936.7C1899.1 2937.7 1904.5 2943.5 1908.5 2944C1912.4 2944.5 1915.7 2939.5 1919.3 2939.7C1922.9 2939.9 1926.5 2944.9 1930.1 2945.3C1933.6 2945.7 1936.9 2941.8 1940.8 2942.3C1944.8 2942.8 1949.5 2946.6 1953.8 2948.3C1958.1 2950 1962.8 2952.4 1966.7 2952.6C1970.7 2952.8 1974.1 2950.5 1977.5 2949.6C1980.9 2948.6 1985.4 2947.4 1987 2946.9" stroke="#ff00ff" stroke-width="8.3" clip-path="url(#c3R)"/>
<path d="M128 2776.8C129.9 2774.9 136.4 2769.2 139.2 2765.6C142 2762 141.6 2755.9 144.6 2755.2C147.6 2754.5 153.7 2759 157.2 2761.4C160.6 2763.9 162.7 2765.7 165.5 2769.8C168.3 2773.8 170.4 2781.8 173.9 2785.7C177.3 2789.5 182.2 2792.5 186.4 2792.8C190.6 2793 195.1 2788.2 198.9 2787.3C202.8 2786.4 206.6 2787.8 209.4 2787.3C212.2 2786.8 213.2 2781.8 215.6 2784.4C218.1 2787.1 220.9 2797.3 224 2803.2C227.1 2809.1 230.3 2814.7 234.4 2819.9C238.6 2825.1 244.9 2833.7 249.1 2834.5C253.2 2835.4 256.7 2826.3 259.5 2824.9C262.3 2823.5 263.3 2828.4 265.8 2826.2C268.2 2824 270.7 2810.5 274.1 2811.6C277.6 2812.6 283.2 2827.6 286.7 2832.5C290.2 2837.3 292.6 2840 295 2840.8C297.5 2841.6 298.5 2835.7 301.3 2837.5C304.1 2839.2 307.9 2851 311.7 2851.3C315.6 2851.5 320.1 2839.4 324.3 2838.7C328.5 2838 332.6 2845 336.8 2847.1C341 2849.2 344.8 2852.9 349.3 2851.3C353.9 2849.7 359.4 2842.8 364 2837.5C368.5 2832.1 372.3 2824.9 376.5 2819.1C380.7 2813.2 384.5 2801.9 389 2802.4C393.6 2802.9 398.1 2817.3 403.7 2822C409.2 2826.7 417.6 2830 422.5 2830.4C427.3 2830.7 429.4 2827.4 432.9 2824.1C436.4 2820.8 439.9 2811.8 443.3 2810.7C446.8 2809.7 449.6 2815.3 453.8 2817.8C458 2820.4 463.2 2826.5 468.4 2826.2C473.6 2825.8 480.6 2819.2 485.1 2815.7C489.6 2812.3 492.1 2809.5 495.6 2805.3C499 2801.1 501.8 2792.4 506 2790.7C510.2 2788.9 516.5 2790.8 520.6 2794.9C524.8 2798.9 527.6 2809 531.1 2814.9C534.6 2820.8 538 2828.5 541.5 2830.4C545 2832.2 548.8 2828.1 552 2826.2C555.1 2824.3 556.8 2822.2 560.3 2819.1C563.8 2816 568.7 2808.6 572.9 2807.4C577 2806.1 580.5 2809.3 585.4 2811.6C590.3 2813.8 597.6 2820.6 602.1 2820.8C606.6 2820.9 608.4 2812.4 612.5 2812.4C616.7 2812.4 623 2820.5 627.2 2820.8C631.3 2821 634.1 2814.1 637.6 2813.7C641.1 2813.2 643.9 2819.6 648.1 2817.8C652.2 2816.1 658.9 2805.5 662.7 2803.2C666.5 2800.9 667.6 2805.6 671 2804C674.5 2802.4 679.4 2794.1 683.6 2793.6C687.7 2793.1 691.2 2798.7 696.1 2801.1C701 2803.6 708.3 2808 712.8 2808.2C717.3 2808.4 720.5 2803.3 723.3 2802.4C726 2801.4 727.3 2802.4 729.5 2802.4C731.8 2802.4 735.5 2802.4 736.7 2802.4" stroke="#008000" stroke-width="8.3" clip-path="url(#c3L)"/>
<path d="M752.3 2801.5C753.9 2801.5 758.6 2801.5 761.7 2801.5C764.8 2801.5 767.8 2803.1 770.9 2801.5C774 2799.9 776.9 2791.9 780.1 2791.9C783.2 2791.9 785.7 2801.8 789.7 2801.5C793.7 2801.1 799.4 2791 804.3 2789.8C809.2 2788.5 814.8 2795.2 818.9 2794C823.1 2792.7 826.6 2783.3 829.4 2782.3C832.2 2781.2 831.8 2787.5 835.6 2787.7C839.5 2787.9 847.8 2783.9 852.4 2783.5C856.9 2783.2 859.3 2784.4 862.8 2785.6C866.3 2786.8 869.9 2793.4 873.2 2790.6C876.6 2787.8 879.4 2770.6 882.9 2768.9C886.3 2767.2 890.2 2782.7 894.1 2780.6C898.1 2778.5 903.5 2758.9 906.7 2756.4C909.8 2753.9 910.5 2768.2 912.9 2765.6C915.4 2762.9 918.9 2745.8 921.3 2740.5C923.7 2735.1 925.1 2731.8 927.6 2733.4C930 2735 931.7 2747 935.9 2750.1C940.1 2753.2 948.5 2756 952.6 2752.2C956.8 2748.4 957.5 2734.1 961 2727.1C964.5 2720.2 970.4 2717 973.5 2710.4C976.7 2703.8 977.3 2689.2 979.8 2687.4C982.2 2685.7 985.4 2699.6 988.1 2700C990.9 2700.3 994.1 2697.7 996.5 2689.5C998.9 2681.4 1000.3 2658.4 1002.8 2651.1C1005.2 2643.8 1008.3 2652.1 1011.1 2645.6C1013.9 2639.2 1016.7 2616.1 1019.5 2612.2C1022.3 2608.4 1025.4 2621.3 1027.8 2622.7C1030.3 2624.1 1031.7 2619.2 1034.1 2620.6C1036.5 2622 1040 2629.3 1042.5 2631C1044.9 2632.8 1047 2635.2 1048.7 2631C1050.5 2626.8 1051.2 2614.9 1052.9 2606C1054.6 2597 1057.1 2581.7 1059.2 2577.5C1061.3 2573.4 1063.2 2582.8 1065.4 2580.9C1067.7 2579 1070.1 2565.6 1072.5 2566.3C1075 2567 1077.8 2575.7 1080.1 2585.1C1082.4 2594.5 1083.9 2612.2 1086.3 2622.7C1088.8 2633.1 1091.9 2645 1094.7 2647.7C1097.5 2650.5 1100.2 2638 1103 2639.4C1105.8 2640.8 1109 2655.4 1111.4 2656.1C1113.8 2656.8 1115.2 2645 1117.7 2643.6C1120.1 2642.2 1123.2 2642.2 1126 2647.7C1128.8 2653.3 1131.6 2670 1134.4 2677C1137.2 2683.9 1139.9 2682.6 1142.7 2689.5C1145.5 2696.5 1147.9 2709 1151.1 2718.8C1154.2 2728.5 1158.2 2739 1161.5 2748C1164.9 2757.1 1168 2773.1 1171.1 2773.1C1174.3 2773.1 1177.4 2757.1 1180.3 2748C1183.2 2739 1185.5 2736.2 1188.7 2718.8C1191.8 2701.4 1196.3 2658.9 1199.1 2643.6C1201.9 2628.2 1203.3 2638 1205.4 2626.8C1207.5 2615.7 1209.2 2588.1 1211.7 2576.7C1214.1 2565.3 1217.6 2559.4 1220 2558.4C1222.5 2557.4 1224.4 2572.3 1226.3 2570.9C1228.2 2569.6 1229.6 2557 1231.3 2550.1C1233 2543.1 1234.8 2529.2 1236.7 2529.2C1238.7 2529.2 1241.3 2544.5 1243 2550.1C1244.7 2555.6 1245.8 2562.6 1247.2 2562.6C1248.6 2562.6 1249.4 2549.7 1251.3 2550.1C1253.3 2550.4 1256.8 2556.1 1258.9 2564.7C1261 2573.3 1262 2588.6 1263.9 2601.8C1265.8 2614.9 1267.9 2627.2 1270.1 2643.6C1272.4 2659.9 1274.8 2693.3 1277.3 2700C1279.7 2706.6 1281.8 2686.4 1284.8 2683.2C1287.8 2680.1 1292.4 2688.1 1295.2 2681.2C1298 2674.2 1299.4 2651.2 1301.5 2641.5C1303.6 2631.7 1305.7 2622 1307.7 2622.7C1309.8 2623.4 1311.7 2643.9 1314 2645.6C1316.3 2647.4 1318.8 2630.7 1321.5 2633.1C1324.3 2635.6 1327.1 2659.9 1330.7 2660.3C1334.3 2660.6 1340 2638.4 1343.3 2635.2C1346.5 2632 1347.1 2642.1 1350 2641.1C1352.9 2640 1357.5 2627.8 1360.8 2629C1364 2630.2 1365.8 2644.8 1369.4 2648.4C1373 2652 1378.8 2647 1382.3 2650.6C1385.9 2654.2 1387.4 2664.2 1391 2670C1394.6 2675.7 1400 2679.3 1403.9 2685.1C1407.9 2690.8 1411.8 2702 1414.7 2704.5C1417.6 2707 1418.3 2696.9 1421.2 2700.2C1424 2703.4 1428.7 2720.1 1431.9 2723.9C1435.2 2727.7 1437.3 2719.8 1440.6 2723C1443.8 2726.3 1447.8 2739 1451.3 2743.3C1454.9 2747.6 1458.2 2746.2 1462.1 2748.9C1466.1 2751.6 1470.8 2757.3 1475.1 2759.2C1479.4 2761.2 1484.1 2759.4 1488 2760.5C1492 2761.7 1494.1 2764.3 1498.8 2766.1C1503.5 2767.9 1509.9 2767.2 1516 2771.3C1522.1 2775.4 1529.3 2784.3 1535.4 2790.7C1541.6 2797.2 1547.3 2805.8 1552.7 2810.1C1558.1 2814.4 1563.5 2815.7 1567.8 2816.6C1572.1 2817.5 1575 2816.7 1578.6 2815.3C1582.2 2813.9 1585.8 2809.9 1589.4 2808C1592.9 2806 1596.2 2805.6 1600.1 2803.7C1604.1 2801.7 1608 2801.4 1613.1 2796.3C1618.1 2791.3 1624.6 2782.3 1630.3 2773.5C1636.1 2764.6 1642.2 2749.8 1647.6 2743.3C1653 2736.8 1659.1 2735 1662.7 2734.7C1666.3 2734.3 1666.6 2740.9 1669.1 2741.1C1671.7 2741.3 1674.5 2736.3 1677.8 2736C1681 2735.6 1685 2739.4 1688.5 2739C1692.1 2738.5 1696.1 2733.9 1699.3 2733.4C1702.6 2732.9 1704.7 2736.8 1708 2736C1711.2 2735.1 1715.5 2729.3 1718.7 2728.2C1722 2727 1724.5 2729.8 1727.4 2729.1C1730.2 2728.3 1731.7 2723.3 1736 2723.9C1740.3 2724.5 1748.2 2728.3 1753.2 2732.5C1758.3 2736.7 1762.2 2744.9 1766.2 2748.9C1770.1 2752.8 1773.4 2752.8 1777 2756.2C1780.5 2759.6 1784.5 2771.3 1787.7 2769.2C1791 2767 1793.1 2748.3 1796.4 2743.3C1799.6 2738.3 1803.5 2739 1807.1 2739C1810.7 2739 1814.7 2737.5 1817.9 2743.3C1821.2 2749 1823.3 2770.6 1826.5 2773.5C1829.8 2776.4 1834.1 2761.6 1837.3 2760.5C1840.6 2759.5 1842.7 2764.9 1846 2767C1849.2 2769.2 1853.5 2764.5 1856.7 2773.5C1860 2782.5 1861.8 2812.5 1865.4 2820.9C1869 2829.3 1874.7 2822.3 1878.3 2823.9C1881.9 2825.6 1884.1 2830.4 1886.9 2830.8C1889.8 2831.3 1892 2826.5 1895.6 2826.5C1899.1 2826.5 1904.5 2831.1 1908.5 2830.8C1912.4 2830.6 1915.3 2824.4 1919.3 2825.2C1923.2 2826.1 1927.9 2832.8 1932.2 2836C1936.5 2839.2 1940.8 2842.8 1945.1 2844.6C1949.5 2846.4 1953.8 2845.7 1958.1 2846.8C1962.4 2847.9 1967.8 2850.9 1971 2851.1C1974.3 2851.3 1974.8 2849.3 1977.5 2848.1C1980.2 2846.8 1985.4 2844.4 1987 2843.6" stroke="#008000" stroke-width="8.3" clip-path="url(#c3R)"/>
<path d="M128 2638C129.9 2638.7 136.1 2641.1 139.2 2642.4C142.3 2643.6 143.7 2641.8 146.7 2645.3C149.7 2648.8 153.7 2661 157.2 2663.2C160.6 2665.5 163.8 2657.2 167.6 2659.1C171.4 2661 176 2673.1 180.1 2674.5C184.3 2675.9 188.8 2667.2 192.7 2667.4C196.5 2667.6 199.6 2676.5 203.1 2675.8C206.6 2675.1 210.1 2663.2 213.6 2663.2C217 2663.2 220.2 2670.2 224 2675.8C227.8 2681.4 232.7 2691.8 236.5 2696.7C240.4 2701.5 244.2 2701.2 247 2705C249.8 2708.9 250.5 2715.5 253.2 2719.6C256 2723.8 259.2 2731.1 263.7 2730.1C268.2 2729 274.8 2712.7 280.4 2713.4C286 2714.1 292.6 2729 297.1 2734.3C301.6 2739.5 304.4 2741.2 307.6 2744.7C310.7 2748.2 312.8 2755.5 315.9 2755.2C319 2754.8 321.8 2745.8 326.4 2742.6C330.9 2739.5 337.9 2738.5 343.1 2736.4C348.3 2734.3 353.2 2732.9 357.7 2730.1C362.2 2727.3 366.4 2724.2 370.2 2719.6C374.1 2715.1 377.5 2707.8 380.7 2702.9C383.8 2698.1 385.9 2691.4 389 2690.4C392.2 2689.4 396 2693.1 399.5 2696.7C403 2700.3 406.4 2706.2 409.9 2712.1C413.4 2718 417.2 2730.9 420.4 2732.2C423.5 2733.4 425.6 2722.1 428.7 2719.6C431.9 2717.2 436 2719.6 439.2 2717.6C442.3 2715.5 445.1 2709.2 447.5 2707.1C450 2705 451 2704.3 453.8 2705C456.6 2705.7 460.4 2711.6 464.2 2711.3C468.1 2710.9 472.6 2706.4 476.8 2702.9C480.9 2699.5 484.4 2692.5 489.3 2690.4C494.2 2688.3 500.8 2691.4 506 2690.4C511.2 2689.4 516.1 2682.4 520.6 2684.1C525.2 2685.9 529 2699 533.2 2700.8C537.3 2702.7 541.9 2695.2 545.7 2695.4C549.5 2695.6 552.3 2703.3 556.1 2702.1C560 2700.9 564.2 2687.5 568.7 2688.3C573.2 2689.2 579.1 2704.3 583.3 2707.1C587.5 2709.9 590.3 2705.6 593.7 2705C597.2 2704.5 600 2705.9 604.2 2703.8C608.4 2701.7 614.3 2692.5 618.8 2692.5C623.3 2692.5 627.2 2700.1 631.3 2703.8C635.5 2707.5 639.4 2715.1 643.9 2714.6C648.4 2714.1 654.3 2703.8 658.5 2700.8C662.7 2697.9 665.1 2699.1 668.9 2696.7C672.8 2694.2 677.7 2686.4 681.5 2686.2C685.3 2686 688.1 2694.4 691.9 2695.4C695.8 2696.5 701 2692.1 704.5 2692.5C707.9 2692.9 709.7 2698.3 712.8 2697.9C716 2697.6 720.5 2691.7 723.3 2690.4C726 2689.2 727.3 2690.4 729.5 2690.4C731.8 2690.4 735.5 2690.4 736.7 2690.4" stroke="#000080" stroke-width="8.3" clip-path="url(#c3L)"/>
<path d="M752.3 2684.5C753.9 2684.5 758.6 2684.5 761.7 2684.5C764.8 2684.5 767.8 2685.4 770.9 2684.5C774 2683.6 776.6 2679.1 780.1 2679.1C783.6 2679.1 787.7 2685.7 791.8 2684.5C795.8 2683.3 800.5 2673.4 804.3 2672C808.1 2670.6 810.6 2677.7 814.8 2676.1C818.9 2674.5 825.9 2663.5 829.4 2662.4C832.9 2661.2 831.8 2669 835.6 2669.5C839.5 2669.9 847.8 2665.6 852.4 2665.3C856.9 2665 859.3 2666.5 862.8 2667.8C866.3 2669 869.9 2675.8 873.2 2672.8C876.6 2669.8 879.4 2651.9 882.9 2649.8C886.3 2647.7 890.2 2663.4 894.1 2660.3C898.1 2657.1 903.5 2634.5 906.7 2631C909.8 2627.5 910.5 2642.2 912.9 2639.4C915.4 2636.6 918.9 2619.9 921.3 2614.3C923.7 2608.7 925.1 2604.2 927.6 2606C930 2607.7 931.7 2621.6 935.9 2624.8C940.1 2627.9 948.5 2629.3 952.6 2624.8C956.8 2620.2 957.5 2605.6 961 2597.6C964.5 2589.6 970.4 2583.9 973.5 2576.7C976.7 2569.5 977.3 2555.5 979.8 2554.2C982.2 2552.9 984.7 2573 988.1 2568.9C991.6 2564.7 997.5 2537.5 1000.7 2529.2C1003.8 2520.8 1003.8 2527.1 1006.9 2518.7C1010.1 2510.4 1016 2484.3 1019.5 2479C1023 2473.8 1025.4 2486.7 1027.8 2487.4C1030.3 2488.1 1031.7 2481.3 1034.1 2483.2C1036.5 2485.2 1040 2496.3 1042.5 2499.1C1044.9 2501.9 1047 2504.7 1048.7 2499.9C1050.5 2495.2 1051.2 2480.1 1052.9 2470.7C1054.6 2461.3 1057.1 2446.3 1059.2 2443.5C1061.3 2440.7 1063.2 2456.1 1065.4 2454C1067.7 2451.9 1070.1 2431.7 1072.5 2431C1075 2430.3 1078.1 2441.8 1080.1 2449.8C1082 2457.8 1082.1 2468.6 1084.2 2479C1086.3 2489.5 1090.2 2504.1 1092.6 2512.5C1095 2520.8 1096.6 2529.2 1098.9 2529.2C1101.1 2529.2 1103.7 2512.5 1106 2512.5C1108.3 2512.5 1110.6 2528.8 1112.6 2529.2C1114.7 2529.5 1116.3 2516.6 1118.5 2514.5C1120.7 2512.5 1123.4 2511.1 1126 2516.6C1128.7 2522.2 1131.6 2541 1134.4 2548C1137.2 2554.9 1139.9 2551.2 1142.7 2558.4C1145.5 2565.6 1147.6 2579.2 1151.1 2591.3C1154.6 2603.4 1160.5 2620.8 1163.6 2631C1166.7 2641.3 1167.1 2654.1 1169.9 2652.7C1172.7 2651.4 1176.8 2634.6 1180.3 2622.7C1183.8 2610.7 1187.3 2600.7 1190.8 2580.9C1194.2 2561.1 1198.4 2521.1 1201.2 2504.1C1204 2487.1 1205.4 2492.3 1207.5 2479C1209.6 2465.8 1211.7 2435.5 1213.7 2424.7C1215.8 2413.9 1217.9 2412.9 1220 2414.3C1222.1 2415.7 1224.4 2433.4 1226.3 2433.1C1228.2 2432.7 1229.6 2419.8 1231.3 2412.2C1233 2404.5 1234.8 2386.4 1236.7 2387.1C1238.7 2387.8 1240.9 2410.1 1243 2416.4C1245.1 2422.6 1247.5 2424.7 1249.3 2424.7C1251 2424.7 1251.7 2415 1253.4 2416.4C1255.2 2417.8 1257.6 2423.3 1259.7 2433.1C1261.8 2442.8 1263.9 2461.6 1266 2474.9C1268.1 2488.1 1270.1 2497.1 1272.2 2512.5C1274.3 2527.8 1276.4 2559.8 1278.5 2566.8C1280.6 2573.7 1282 2556.7 1284.8 2554.2C1287.6 2551.8 1292.4 2559.1 1295.2 2552.1C1298 2545.2 1299.4 2522.9 1301.5 2512.5C1303.6 2502 1305.7 2489.1 1307.7 2489.5C1309.8 2489.8 1311.7 2513.5 1314 2514.5C1316.3 2515.6 1318.8 2493.7 1321.5 2495.7C1324.3 2497.8 1327.1 2526.4 1330.7 2527.1C1334.3 2527.8 1340 2503.7 1343.3 2499.9C1346.5 2496.2 1347.1 2504.7 1350 2504.6C1352.9 2504.6 1357.5 2497.3 1360.8 2499.5C1364 2501.6 1365.8 2514.4 1369.4 2517.6C1373 2520.7 1378.8 2514.5 1382.3 2518.4C1385.9 2522.4 1387.4 2534.2 1391 2541.3C1394.6 2548.3 1400.3 2553.6 1403.9 2560.7C1407.5 2567.8 1409.9 2581 1412.5 2583.7C1415.2 2586.5 1416.6 2574.4 1419.9 2577.3C1423.1 2580.1 1428.5 2598.1 1431.9 2601C1435.4 2603.8 1437.3 2591.6 1440.6 2594.5C1443.8 2597.4 1447.8 2613.5 1451.3 2618.2C1454.9 2622.9 1458.2 2619.3 1462.1 2622.5C1466.1 2625.8 1470.8 2634.5 1475.1 2637.6C1479.4 2640.7 1484.1 2639.6 1488 2641.1C1492 2642.5 1494.1 2644.7 1498.8 2646.3C1503.5 2647.8 1509.9 2647 1516 2650.6C1522.1 2654.2 1529.3 2661 1535.4 2667.8C1541.6 2674.6 1547.7 2685.9 1552.7 2691.5C1557.7 2697.1 1561.7 2700.2 1565.6 2701.5C1569.6 2702.7 1573.2 2700.5 1576.4 2698.9C1579.6 2697.2 1581.8 2693.3 1585 2691.5C1588.3 2689.8 1591.2 2691.4 1595.8 2688.5C1600.5 2685.6 1607.3 2679.5 1613.1 2674.3C1618.8 2669 1624.6 2664.2 1630.3 2657C1636.1 2649.8 1642.2 2639.1 1647.6 2631.2C1653 2623.3 1658.4 2614.6 1662.7 2609.6C1667 2604.6 1669.1 2602.9 1673.5 2601C1677.8 2599 1684.2 2598.2 1688.5 2598C1692.9 2597.7 1696.5 2598.7 1699.3 2599.7C1702.2 2600.7 1703.1 2604.9 1705.8 2604C1708.5 2603.1 1710.7 2595 1715.7 2594.5C1720.7 2594 1730.8 2597.7 1736 2601C1741.2 2604.2 1743.5 2612.5 1746.8 2613.9C1750 2615.3 1752.2 2608.5 1755.4 2609.6C1758.6 2610.7 1762.6 2617.9 1766.2 2620.4C1769.8 2622.9 1773.4 2621.1 1777 2624.7C1780.5 2628.3 1784.5 2643.4 1787.7 2641.9C1791 2640.5 1793.1 2620.7 1796.4 2616.1C1799.6 2611.4 1803.5 2613.2 1807.1 2613.9C1810.7 2614.6 1814.7 2613.5 1817.9 2620.4C1821.2 2627.2 1823.3 2652 1826.5 2654.9C1829.8 2657.8 1834.1 2639.1 1837.3 2637.6C1840.6 2636.2 1842.7 2643.7 1846 2646.3C1849.2 2648.8 1853.5 2643.7 1856.7 2652.7C1860 2661.7 1861.8 2692.3 1865.4 2700.2C1869 2708.1 1874.7 2699.4 1878.3 2700.2C1881.9 2700.9 1884.1 2704.5 1886.9 2704.5C1889.8 2704.5 1891.6 2698.5 1895.6 2700.2C1899.5 2701.8 1906.7 2711.9 1910.6 2714.4C1914.6 2716.9 1915.7 2713.3 1919.3 2715.3C1922.9 2717.2 1927.9 2722.6 1932.2 2726C1936.5 2729.5 1940.8 2734.2 1945.1 2736C1949.5 2737.8 1954.5 2735.8 1958.1 2736.8C1961.7 2737.8 1963.5 2742.1 1966.7 2742C1969.9 2741.9 1974.1 2737.9 1977.5 2736C1980.9 2734.1 1985.4 2731.5 1987 2730.6" stroke="#000080" stroke-width="8.3" clip-path="url(#c3R)"/>
<path d="M128 2547.6C129.9 2549.5 136.1 2554.2 139.2 2558.8C142.3 2563.5 143.7 2569.9 146.7 2575.5C149.7 2581.1 154.4 2589.6 157.2 2592.2C159.9 2594.8 161.3 2589.9 163.4 2591C165.5 2592 166.6 2599 169.7 2598.5C172.8 2598 178.4 2590.5 182.2 2588C186.1 2585.6 189.5 2584.2 192.7 2583.9C195.8 2583.5 197.9 2587 201 2586C204.2 2584.9 208.3 2577.9 211.5 2577.6C214.6 2577.3 216.3 2579.3 219.8 2583.9C223.3 2588.4 228.5 2600.9 232.4 2604.8C236.2 2608.6 239.3 2603.4 242.8 2606.8C246.3 2610.3 250.1 2620.8 253.2 2625.6C256.4 2630.5 258.5 2635.7 261.6 2636.1C264.7 2636.4 267.9 2626.7 272 2627.7C276.2 2628.8 282.1 2640.8 286.7 2642.4C291.2 2643.9 294.7 2635.7 299.2 2636.9C303.7 2638.1 310 2649.3 313.8 2649.5C317.7 2649.7 318.4 2639.4 322.2 2638.2C326 2637 332.6 2642.8 336.8 2642.4C341 2641.9 343.8 2635.6 347.3 2635.3C350.7 2634.9 353.9 2641.9 357.7 2640.3C361.5 2638.7 366.4 2628.4 370.2 2625.6C374.1 2622.9 377.5 2625.2 380.7 2623.6C383.8 2622 385.9 2615.3 389 2616C392.2 2616.7 394.6 2623 399.5 2627.7C404.3 2632.5 413.1 2643.4 418.3 2644.4C423.5 2645.5 427 2636.4 430.8 2634C434.6 2631.6 436 2628.9 441.3 2629.8C446.5 2630.7 456.2 2639.1 462.1 2639.4C468.1 2639.8 472.2 2635.6 476.8 2631.9C481.3 2628.2 484.8 2622.2 489.3 2617.3C493.8 2612.4 497.7 2605.1 503.9 2602.7C510.2 2600.2 521.3 2600.6 526.9 2602.7C532.5 2604.8 533.9 2613 537.3 2615.2C540.8 2617.4 541.2 2613.9 547.8 2616C554.4 2618.1 570.4 2624.7 577 2627.7C583.7 2630.7 583.7 2632.7 587.5 2634C591.3 2635.3 596.5 2636.3 600 2635.3C603.5 2634.2 605.2 2629.1 608.4 2627.7C611.5 2626.3 615.3 2626.2 618.8 2626.9C622.3 2627.6 624 2632.1 629.3 2631.9C634.5 2631.7 643.5 2629.5 650.1 2625.6C656.8 2621.8 663.4 2613.3 668.9 2608.9C674.5 2604.5 679.7 2599.8 683.6 2599.3C687.4 2598.8 689.1 2605.5 691.9 2606C694.7 2606.6 696.5 2601 700.3 2602.7C704.1 2604.3 710 2614.1 714.9 2616C719.8 2618 725.9 2614.8 729.5 2614.4C733.2 2614 735.5 2613.7 736.7 2613.5" stroke="#8000ff" stroke-width="8.3" clip-path="url(#c3L)"/>
<path d="M752.3 2580.7C753.9 2581.8 758.6 2585 761.7 2587.2C764.8 2589.3 767.8 2593.4 770.9 2593.4C774 2593.4 776.6 2587.3 780.1 2587.2C783.6 2587 787.7 2593.8 791.8 2592.6C795.8 2591.4 800.8 2581.4 804.3 2580.1C807.8 2578.7 808.8 2586 812.7 2584.2C816.5 2582.4 823.5 2571.3 827.3 2569.2C831.1 2567.1 831.5 2571.8 835.6 2571.7C839.8 2571.6 847.8 2568.8 852.4 2568.4C856.9 2567.9 859.3 2567.8 862.8 2569.2C866.3 2570.6 869.9 2579.2 873.2 2576.7C876.6 2574.2 879.4 2556.2 882.9 2554.2C886.3 2552.2 890.2 2568.5 894.1 2564.7C898.1 2560.8 903.5 2535.2 906.7 2531.3C909.8 2527.3 910.5 2544 912.9 2540.9C915.4 2537.7 918.9 2518.4 921.3 2512.5C923.7 2506.5 925.1 2502.5 927.6 2504.9C930 2507.4 931.7 2524.4 935.9 2527.1C940.1 2529.7 948.1 2527.8 952.6 2520.8C957.2 2513.8 959.6 2494 963.1 2485.3C966.6 2476.6 970.7 2474.2 973.5 2468.6C976.3 2463 977.3 2451.9 979.8 2451.9C982.2 2451.9 985.4 2468.2 988.1 2468.6C990.9 2468.9 994.1 2463.4 996.5 2454C998.9 2444.6 1000.3 2420.5 1002.8 2412.2C1005.2 2403.8 1008.3 2411.5 1011.1 2403.8C1013.9 2396.2 1016.7 2371.4 1019.5 2366.2C1022.3 2361 1025.4 2370.1 1027.8 2372.5C1030.3 2374.9 1032 2381.2 1034.1 2380.8C1036.2 2380.5 1037.9 2371.4 1040.4 2370.4C1042.8 2369.4 1046.6 2378.8 1048.7 2374.6C1050.8 2370.4 1051.5 2355.9 1052.9 2345.3C1054.3 2334.8 1055.3 2314.9 1057.1 2311.1C1058.8 2307.2 1060.9 2323.6 1063.3 2322.4C1065.8 2321.1 1068.9 2303.2 1071.7 2303.6C1074.5 2303.9 1077.6 2314.4 1080.1 2324.4C1082.5 2334.5 1083.9 2351.6 1086.3 2364.1C1088.8 2376.7 1091.9 2394.8 1094.7 2399.6C1097.5 2404.5 1100.6 2391.3 1103 2393.4C1105.5 2395.5 1106.9 2411.5 1109.3 2412.2C1111.7 2412.9 1114.9 2399.3 1117.7 2397.6C1120.4 2395.8 1123.2 2396.2 1126 2401.7C1128.8 2407.3 1131.6 2423.3 1134.4 2431C1137.2 2438.6 1139.9 2439 1142.7 2447.7C1145.5 2456.4 1147.6 2470.3 1151.1 2483.2C1154.6 2496.1 1160.1 2513.8 1163.6 2525C1167.1 2536.1 1169.2 2550.1 1172 2550.1C1174.8 2550.1 1177.5 2535.4 1180.3 2525C1183.1 2514.5 1185.5 2508.3 1188.7 2487.4C1191.8 2466.5 1196.3 2417.8 1199.1 2399.6C1201.9 2381.5 1203.3 2393.7 1205.4 2378.8C1207.5 2363.8 1209.6 2323.8 1211.7 2309.8C1213.7 2295.9 1215.8 2294.9 1217.9 2295.2C1220 2295.6 1222.1 2314 1224.2 2311.9C1226.3 2309.8 1228.2 2291.7 1230.5 2282.7C1232.8 2273.6 1235.9 2257.6 1238 2257.6C1240.1 2257.6 1241.5 2275.4 1243 2282.7C1244.5 2290 1245.8 2300.8 1247.2 2301.5C1248.6 2302.2 1249.6 2287.2 1251.3 2286.8C1253.1 2286.5 1255.5 2289.6 1257.6 2299.4C1259.7 2309.1 1261.8 2329.3 1263.9 2345.3C1266 2361.4 1267.9 2376.1 1270.1 2395.5C1272.4 2414.8 1274.8 2453.1 1277.3 2461.5C1279.7 2469.8 1281.8 2447.6 1284.8 2445.6C1287.8 2443.7 1292.4 2456.7 1295.2 2449.8C1298 2442.8 1299.4 2414.6 1301.5 2403.8C1303.6 2393 1305.7 2384 1307.7 2385C1309.8 2386.1 1311.7 2409 1314 2410.1C1316.3 2411.1 1318.8 2388.5 1321.5 2391.3C1324.3 2394.1 1327.1 2425.8 1330.7 2426.8C1334.3 2427.9 1340 2400.8 1343.3 2397.6C1346.5 2394.4 1347.1 2409.3 1350 2407.6C1352.9 2405.9 1357.5 2387.5 1360.8 2387.3C1364 2387.1 1365.8 2402.6 1369.4 2406.3C1373 2410 1378.8 2405.2 1382.3 2409.8C1385.9 2414.3 1387.4 2425.9 1391 2433.5C1394.6 2441 1400 2448.2 1403.9 2455C1407.9 2461.9 1411.8 2472.3 1414.7 2474.4C1417.6 2476.6 1418.3 2464.7 1421.2 2468C1424 2471.2 1428.7 2490.3 1431.9 2493.9C1435.2 2497.4 1437.3 2486.3 1440.6 2489.5C1443.8 2492.8 1447.8 2508.9 1451.3 2513.3C1454.9 2517.6 1458.5 2513.1 1462.1 2515.4C1465.7 2517.7 1469.3 2524.4 1472.9 2527.1C1476.5 2529.7 1479.7 2530.4 1483.7 2531.4C1487.6 2532.3 1491.2 2531 1496.6 2532.7C1502 2534.3 1509.6 2536.6 1516 2541.3C1522.5 2546 1530.4 2554 1535.4 2560.7C1540.5 2567.4 1541.9 2574.5 1546.2 2581.6C1550.5 2588.6 1556.6 2598.5 1561.3 2603.1C1566 2607.8 1568.5 2609.6 1574.3 2609.6C1580 2609.6 1589.4 2604.9 1595.8 2603.1C1602.3 2601.3 1606.6 2602 1613.1 2598.8C1619.5 2595.6 1628.9 2590.1 1634.6 2583.7C1640.4 2577.4 1642.9 2566 1647.6 2560.7C1652.2 2555.4 1655.5 2554.6 1662.7 2552.1C1669.9 2549.6 1683.9 2547.4 1690.7 2545.6C1697.5 2543.8 1699.3 2544.2 1703.6 2541.3C1708 2538.4 1711.5 2531.7 1716.6 2528.4C1721.6 2525 1728.1 2521 1733.8 2521C1739.6 2521 1745 2526.1 1751.1 2528.4C1757.2 2530.7 1764 2532.2 1770.5 2534.8C1777 2537.5 1784.9 2544.7 1789.9 2544.3C1794.9 2544 1796.7 2534.2 1800.7 2532.7C1804.6 2531.1 1808.9 2531 1813.6 2534.8C1818.3 2538.6 1824.8 2553.7 1828.7 2555.5C1832.7 2557.3 1834.5 2545.8 1837.3 2545.6C1840.2 2545.4 1842.7 2551.7 1846 2554.2C1849.2 2556.7 1853.1 2553.6 1856.7 2560.7C1860.3 2567.8 1863.6 2589.9 1867.5 2596.7C1871.5 2603.4 1875.8 2600 1880.5 2601C1885.1 2601.9 1889.8 2600.5 1895.6 2602.3C1901.3 2604.1 1909.6 2609.1 1915 2611.8C1920.4 2614.4 1922.9 2615 1927.9 2618.2C1932.9 2621.5 1940.1 2629.2 1945.1 2631.2C1950.2 2633.1 1954.5 2629.4 1958.1 2629.9C1961.7 2630.4 1963.5 2634 1966.7 2634.2C1969.9 2634.4 1974.1 2632.1 1977.5 2631.2C1980.9 2630.2 1985.4 2628.9 1987 2628.5" stroke="#8000ff" stroke-width="8.3" clip-path="url(#c3R)"/>
<path d="M128 2404C129.9 2405.8 136.1 2410.2 139.2 2415.2C142.3 2420.2 143 2426.3 146.7 2434C150.4 2441.6 156.8 2454.9 161.3 2461.1C165.9 2467.4 170.4 2471.4 173.9 2471.6C177.3 2471.8 179.1 2464.6 182.2 2462.4C185.4 2460.1 188.5 2456.8 192.7 2458.2C196.8 2459.6 203.5 2469.2 207.3 2470.7C211.1 2472.3 212.5 2463.8 215.6 2467.4C218.8 2471 222.6 2484.4 226.1 2492.5C229.6 2500.5 232.4 2508.5 236.5 2515.4C240.7 2522.4 246.6 2532.5 251.2 2534.2C255.7 2536 259.2 2529.9 263.7 2525.9C268.2 2521.8 273.8 2509.3 278.3 2510C282.8 2510.7 287 2527.1 290.8 2530.1C294.7 2533 297.5 2526 301.3 2528C305.1 2529.9 309.6 2542.8 313.8 2541.8C318 2540.7 321.5 2527.5 326.4 2521.7C331.2 2515.9 337.2 2509.9 343.1 2507.1C349 2504.3 357 2505 361.9 2505C366.7 2505 367.4 2508.3 372.3 2507.1C377.2 2505.8 386.2 2496.8 391.1 2497.5C396 2498.2 397 2506.2 401.6 2511.3C406.1 2516.3 413.4 2527.5 418.3 2528C423.1 2528.5 427 2519.1 430.8 2514.2C434.6 2509.3 437.4 2501.5 441.3 2498.7C445.1 2495.9 449.3 2494.9 453.8 2497.5C458.3 2500 463.2 2512.6 468.4 2514.2C473.6 2515.8 479.6 2511.7 485.1 2507.1C490.7 2502.4 497.3 2489 501.8 2486.2C506.4 2483.4 509.1 2490.6 512.3 2490.4C515.4 2490.2 516.5 2481.9 520.6 2484.9C524.8 2487.9 531.4 2503.7 537.3 2508.3C543.3 2512.9 550.2 2514.6 556.1 2512.5C562.1 2510.4 567.3 2499.5 572.9 2495.8C578.4 2492.1 583.3 2490.6 589.6 2490.4C595.8 2490.2 604.2 2491.5 610.5 2494.5C616.7 2497.5 621.3 2505.2 627.2 2508.3C633.1 2511.5 640.1 2514.9 646 2513.3C651.9 2511.7 658.2 2501.9 662.7 2498.7C667.2 2495.6 669.6 2498 673.1 2494.5C676.6 2491.1 680.1 2479.6 683.6 2477.8C687.1 2476.1 690.2 2482.9 694 2484.1C697.8 2485.3 703.1 2483.7 706.5 2484.9C710 2486.2 711.1 2491.4 714.9 2491.6C718.7 2491.8 725.9 2487.5 729.5 2486.2C733.2 2484.8 735.5 2484 736.7 2483.5" stroke="#800080" stroke-width="8.3" clip-path="url(#c3L)"/>
<path d="M752.3 2468.6C753.9 2468.6 757.9 2468.6 761.7 2468.6C765.5 2468.6 772 2469.3 775.1 2468.6C778.1 2467.9 777.3 2463.7 780.1 2464.4C782.9 2465.1 787.7 2473.5 791.8 2472.8C795.8 2472.1 799.8 2462.3 804.3 2460.2C808.8 2458.1 814.8 2462.7 818.9 2460.2C823.1 2457.8 826.6 2447.7 829.4 2445.6C832.2 2443.5 831.8 2448.7 835.6 2447.7C839.5 2446.7 847.8 2440 852.4 2439.3C856.9 2438.6 859.3 2441.4 862.8 2443.5C866.3 2445.6 869.9 2454.9 873.2 2451.9C876.6 2448.9 879.4 2428.5 882.9 2425.6C886.3 2422.6 890.2 2437.5 894.1 2433.9C898.1 2430.3 903.5 2406.9 906.7 2403.8C909.8 2400.8 910.5 2417.6 912.9 2415.5C915.4 2413.4 918.9 2396.9 921.3 2391.3C923.7 2385.7 925.1 2380 927.6 2382.1C930 2384.2 931.7 2401.3 935.9 2403.8C940.1 2406.4 948.1 2405.9 952.6 2397.6C957.2 2389.2 959.6 2363.8 963.1 2353.7C966.6 2343.6 970.7 2343.6 973.5 2337C976.3 2330.4 977.3 2314.8 979.8 2314C982.2 2313.2 985.4 2331.3 988.1 2332C990.9 2332.7 994.1 2326.4 996.5 2318.2C998.9 2310 1000.7 2289.6 1002.8 2282.7C1004.9 2275.7 1006.2 2285.1 1009 2276.4C1011.8 2267.7 1016.3 2236.7 1019.5 2230.4C1022.6 2224.2 1025.4 2238.5 1027.8 2238.8C1030.3 2239.1 1031.7 2232.2 1034.1 2232.5C1036.5 2232.9 1040 2240.2 1042.5 2240.9C1044.9 2241.6 1046.3 2247.4 1048.7 2236.7C1051.2 2226 1054.6 2187.3 1057.1 2176.6C1059.5 2165.9 1060.9 2175.4 1063.3 2172.5C1065.8 2169.5 1069.3 2159.8 1071.7 2159.1C1074.1 2158.4 1075.9 2160.5 1078 2168.3C1080.1 2176.1 1082.1 2195.9 1084.2 2205.9C1086.3 2215.9 1088.1 2219.4 1090.5 2228.4C1092.9 2237.3 1096.3 2256.8 1098.9 2259.7C1101.4 2262.6 1103.7 2244.3 1106 2245.9C1108.3 2247.5 1110.3 2267.2 1112.6 2269.3C1114.9 2271.4 1117.2 2259.3 1119.7 2258.4C1122.3 2257.5 1125.3 2256.7 1128.1 2263.9C1130.9 2271 1133.7 2291.7 1136.5 2301.5C1139.2 2311.2 1142.4 2313 1144.8 2322.4C1147.2 2331.8 1147.9 2344.3 1151.1 2357.9C1154.2 2371.4 1160.1 2391.6 1163.6 2403.8C1167.1 2416 1169.2 2431.7 1172 2431C1174.8 2430.3 1177.2 2413.2 1180.3 2399.6C1183.5 2386.1 1187.6 2367.6 1190.8 2349.5C1193.9 2331.4 1196.7 2305.6 1199.1 2291C1201.6 2276.4 1203.7 2277.4 1205.4 2261.8C1207.1 2246.2 1207.5 2217.3 1209.6 2197.5C1211.7 2177.8 1215.5 2150.2 1217.9 2143.2C1220.4 2136.2 1222.1 2157.8 1224.2 2155.7C1226.3 2153.7 1228.2 2139 1230.5 2130.7C1232.8 2122.3 1235.9 2105.6 1238 2105.6C1240.1 2105.6 1241.5 2123 1243 2130.7C1244.5 2138.3 1245.8 2149.8 1247.2 2151.6C1248.6 2153.3 1249.6 2139.7 1251.3 2141.1C1253.1 2142.5 1255.2 2147.7 1257.6 2159.9C1260.1 2172.1 1263.5 2197.3 1266 2214.2C1268.4 2231.2 1270.1 2244.5 1272.2 2261.8C1274.3 2279.1 1276.1 2311.2 1278.5 2318.2C1280.9 2325.1 1284.1 2305 1286.9 2303.6C1289.6 2302.2 1292.8 2315.4 1295.2 2309.8C1297.7 2304.3 1299.4 2279.2 1301.5 2270.1C1303.6 2261.1 1305.7 2253.4 1307.7 2255.5C1309.8 2257.6 1311.7 2280.2 1314 2282.7C1316.3 2285.1 1318.8 2266.7 1321.5 2270.1C1324.3 2273.6 1327.1 2303.2 1330.7 2303.6C1334.3 2303.9 1340 2276.1 1343.3 2272.2C1346.5 2268.4 1347.1 2281.9 1350 2280.4C1352.9 2278.9 1357.5 2262.6 1360.8 2263.1C1364 2263.7 1365.8 2280.2 1369.4 2283.8C1373 2287.4 1378.8 2280.6 1382.3 2284.7C1385.9 2288.8 1387.4 2300.9 1391 2308.4C1394.6 2316 1400 2322.8 1403.9 2330C1407.9 2337.2 1411.8 2349 1414.7 2351.5C1417.6 2354.1 1418.3 2342.2 1421.2 2345.1C1424 2347.9 1428.7 2365.8 1431.9 2368.8C1435.2 2371.8 1437.3 2359.2 1440.6 2363.2C1443.8 2367.1 1447.8 2386.8 1451.3 2392.5C1454.9 2398.3 1458.5 2394.4 1462.1 2397.7C1465.7 2400.9 1469.7 2408.6 1472.9 2411.9C1476.1 2415.2 1477.6 2417.5 1481.5 2417.5C1485.5 2417.5 1490.9 2411.9 1496.6 2411.9C1502.4 2411.9 1509.6 2413.2 1516 2417.5C1522.5 2421.8 1529.3 2429.9 1535.4 2437.8C1541.6 2445.7 1546.9 2458 1552.7 2465C1558.4 2471.9 1564.6 2477.9 1569.9 2479.6C1575.3 2481.3 1580.4 2476.5 1585 2475.3C1589.7 2474.1 1593.3 2471.9 1598 2472.3C1602.7 2472.7 1607.7 2479.7 1613.1 2477.9C1618.5 2476.1 1625.3 2467.5 1630.3 2461.5C1635.4 2455.5 1637.9 2446.1 1643.3 2442.1C1648.7 2438.1 1654.8 2440.7 1662.7 2437.8C1670.6 2434.9 1683.2 2427.5 1690.7 2424.9C1698.2 2422.2 1703.6 2422.9 1708 2421.8C1712.3 2420.8 1713.7 2418.6 1716.6 2418.4C1719.5 2418.2 1721.2 2421.4 1725.2 2420.5C1729.2 2419.7 1735.6 2414.6 1740.3 2413.2C1745 2411.8 1749.3 2410.7 1753.2 2411.9C1757.2 2413.1 1759.7 2418.4 1764 2420.5C1768.3 2422.7 1774.8 2422.9 1779.1 2424.9C1783.4 2426.8 1786.3 2432.7 1789.9 2432.2C1793.5 2431.7 1796.4 2423.4 1800.7 2421.8C1805 2420.3 1811.1 2420.4 1815.8 2422.7C1820.4 2425 1825.1 2434.3 1828.7 2435.6C1832.3 2436.9 1834.5 2429.7 1837.3 2430.5C1840.2 2431.2 1842.7 2437.3 1846 2439.9C1849.2 2442.6 1853.1 2440.7 1856.7 2446.4C1860.3 2452.2 1861.1 2468.9 1867.5 2474.4C1874 2480 1885.5 2476.4 1895.6 2479.6C1905.6 2482.9 1918.2 2490 1927.9 2493.9C1937.6 2497.7 1945.5 2500.3 1953.8 2502.5C1962 2504.6 1972 2505.8 1977.5 2506.8C1983 2507.8 1985.4 2508.2 1987 2508.5" stroke="#800080" stroke-width="8.3" clip-path="url(#c3R)"/>
<path d="M128 2314.1C129.9 2316 136.1 2321.7 139.2 2325.3C142.3 2328.9 143.7 2330.6 146.7 2335.8C149.7 2341 153.7 2352.5 157.2 2356.7C160.6 2360.8 164.5 2358.1 167.6 2360.8C170.7 2363.6 173.2 2372 176 2373.4C178.7 2374.8 181.5 2371.3 184.3 2369.2C187.1 2367.1 189.5 2361.8 192.7 2360.8C195.8 2359.9 199.6 2365.9 203.1 2363.8C206.6 2361.7 210.4 2349.5 213.6 2348.3C216.7 2347.1 218.4 2349 221.9 2356.7C225.4 2364.3 231 2387.7 234.4 2394.3C237.9 2400.9 239.3 2392.2 242.8 2396.4C246.3 2400.5 251.2 2416.6 255.3 2419.3C259.5 2422.1 263.7 2411.7 267.9 2413.1C272 2414.5 275.9 2423 280.4 2427.7C284.9 2432.4 290.2 2440.4 295 2441.5C299.9 2442.5 304.4 2440.4 309.6 2434C314.9 2427.5 321.5 2406.5 326.4 2402.6C331.2 2398.8 334 2407.9 338.9 2411C343.8 2414.1 350 2423.2 355.6 2421.4C361.2 2419.7 367.1 2406.9 372.3 2400.5C377.5 2394.1 382.8 2382.6 386.9 2383C391.1 2383.3 392.2 2394.7 397.4 2402.6C402.6 2410.6 412.7 2428.9 418.3 2430.6C423.8 2432.4 427 2417.7 430.8 2413.1C434.6 2408.4 436.7 2404.7 441.3 2402.6C445.8 2400.5 453.4 2399.1 458 2400.5C462.5 2401.9 464.6 2410.3 468.4 2411C472.2 2411.7 475.4 2410.5 480.9 2404.7C486.5 2398.9 495.2 2381.2 501.8 2376.3C508.4 2371.4 514 2372.3 520.6 2375.5C527.2 2378.7 535.6 2393.4 541.5 2395.5C547.4 2397.6 551.6 2390.5 556.1 2388C560.7 2385.5 564.8 2381.3 568.7 2380.5C572.5 2379.6 574.9 2380.3 579.1 2383C583.3 2385.6 588.5 2393.1 593.7 2396.4C599 2399.6 605.9 2402.1 610.5 2402.6C615 2403.2 616.7 2399.2 620.9 2399.7C625.1 2400.2 630.3 2404.7 635.5 2405.6C640.7 2406.4 647.7 2405.3 652.2 2404.7C656.8 2404.1 659.2 2401.4 662.7 2401.8C666.2 2402.1 669.3 2407.4 673.1 2406.8C677 2406.2 680.1 2399.6 685.7 2398.5C691.2 2397.3 700.3 2400.6 706.5 2399.7C712.8 2398.8 719.4 2394.3 723.3 2393C727.1 2391.8 727.3 2392.5 729.5 2392.2C731.8 2391.9 735.5 2391.4 736.7 2391.2" stroke="#800000" stroke-width="8.3" clip-path="url(#c3L)"/>
<path d="M752.3 2362C753.9 2362.4 758.6 2363.4 761.7 2364.1C764.8 2364.8 767.8 2367.3 770.9 2366.2C774 2365.2 776.9 2357.9 780.1 2357.9C783.2 2357.9 786.7 2365.5 789.7 2366.2C792.7 2366.9 795.6 2364.8 798 2362C800.5 2359.3 801.5 2350.2 804.3 2349.5C807.1 2348.8 812 2357.5 814.8 2357.9C817.5 2358.2 818.6 2355.1 821 2351.6C823.5 2348.1 826.9 2338.4 829.4 2337C831.8 2335.6 831.8 2343.4 835.6 2343.2C839.5 2343.1 847.8 2336.5 852.4 2336.1C856.9 2335.8 859.3 2338.8 862.8 2341.2C866.3 2343.5 869.9 2353.5 873.2 2350.4C876.6 2347.2 879.4 2325.6 882.9 2322.4C886.3 2319.1 890.2 2335.2 894.1 2330.7C898.1 2326.2 903.5 2299.7 906.7 2295.2C909.8 2290.7 910.5 2307 912.9 2303.6C915.4 2300.1 918.9 2280.6 921.3 2274.3C923.7 2268 925.1 2262.5 927.6 2266C930 2269.4 931.7 2290.9 935.9 2295.2C940.1 2299.5 948.1 2300.1 952.6 2291.9C957.2 2283.6 959.6 2258.8 963.1 2245.9C966.6 2233 970.6 2221.9 973.5 2214.2C976.4 2206.5 978 2199.1 980.6 2199.6C983.2 2200.2 986.3 2217.2 989 2217.6C991.6 2217.9 994.2 2210.6 996.5 2201.7C998.8 2192.8 1000.7 2171.4 1002.8 2164.1C1004.9 2156.8 1006.2 2165.8 1009 2157.8C1011.8 2149.8 1016.7 2122.3 1019.5 2116.1C1022.3 2109.8 1023.9 2117.8 1025.7 2120.2C1027.6 2122.7 1028.8 2130.9 1030.8 2130.7C1032.7 2130.5 1035.1 2119 1037.4 2119C1039.7 2119 1042.3 2134.3 1044.5 2130.7C1046.8 2127.1 1049.1 2108.4 1050.8 2097.3C1052.5 2086.1 1053.2 2070.2 1055 2063.8C1056.7 2057.4 1059.5 2057.3 1061.3 2058.8C1063 2060.3 1063.7 2074.3 1065.4 2073C1067.2 2071.8 1069.6 2053.5 1071.7 2051.3C1073.8 2049.1 1075.9 2052 1078 2059.6C1080.1 2067.3 1082.1 2087.9 1084.2 2097.3C1086.3 2106.7 1088.1 2107.7 1090.5 2116.1C1092.9 2124.4 1096.3 2145.5 1098.9 2147.4C1101.4 2149.3 1103.7 2127.3 1106 2127.3C1108.3 2127.3 1110.6 2146.5 1112.6 2147.4C1114.7 2148.3 1116.3 2134.9 1118.5 2132.8C1120.7 2130.7 1123.4 2126.8 1126 2134.9C1128.7 2142.9 1131.6 2169.7 1134.4 2180.8C1137.2 2191.9 1139.9 2191 1142.7 2201.7C1145.5 2212.4 1147.6 2229.5 1151.1 2245.1C1154.6 2260.7 1160.1 2283 1163.6 2295.2C1167.1 2307.4 1169.2 2319.6 1172 2318.2C1174.8 2316.8 1177.2 2299.7 1180.3 2286.8C1183.5 2274 1187.6 2263.4 1190.8 2240.9C1193.9 2218.3 1196.7 2172.7 1199.1 2151.6C1201.6 2130.4 1203.3 2131.4 1205.4 2114C1207.5 2096.6 1209.6 2063.1 1211.7 2047.1C1213.7 2031.1 1215.8 2020 1217.9 2017.9C1220 2015.8 1222.1 2036.7 1224.2 2034.6C1226.3 2032.5 1228.2 2015.8 1230.5 2005.3C1232.8 1994.9 1235.7 1970.5 1238 1971.9C1240.2 1973.3 1242.2 2008.1 1244 2013.7C1245.9 2019.3 1247 2003.2 1249.3 2005.3C1251.5 2007.4 1255.2 2014.4 1257.6 2026.2C1260.1 2038.1 1261.8 2061.7 1263.9 2076.4C1266 2091 1268.4 2097.9 1270.1 2114C1271.9 2130 1272.9 2157.1 1274.3 2172.5C1275.7 2187.8 1276.8 2202.7 1278.5 2205.9C1280.2 2209 1282.3 2192.6 1284.8 2191.3C1287.2 2189.9 1290.3 2204.8 1293.1 2197.5C1295.9 2190.2 1299 2157.8 1301.5 2147.4C1303.9 2136.9 1305.7 2132.1 1307.7 2134.9C1309.8 2137.6 1311.6 2160.6 1314 2164.1C1316.5 2167.6 1319.6 2151.6 1322.4 2155.7C1325.2 2159.9 1327.2 2187.1 1330.7 2189.2C1334.2 2191.3 1340 2170.2 1343.3 2168.3C1346.5 2166.3 1347.1 2178.5 1350 2177.6C1352.9 2176.6 1357.5 2162.5 1360.8 2162.5C1364 2162.5 1365.8 2174.7 1369.4 2177.6C1373 2180.4 1378.8 2175.1 1382.3 2179.7C1385.9 2184.4 1387.4 2196.7 1391 2205.6C1394.6 2214.5 1400 2224.4 1403.9 2232.9C1407.9 2241.4 1411.8 2253.8 1414.7 2256.7C1417.6 2259.5 1418.3 2247.3 1421.2 2250.2C1424 2253.1 1428.7 2271.4 1431.9 2273.9C1435.2 2276.4 1437.3 2262.4 1440.6 2265.3C1443.8 2268.2 1447.8 2285.8 1451.3 2291.2C1454.9 2296.5 1457.1 2293.3 1462.1 2297.6C1467.2 2301.9 1476.9 2314.3 1481.5 2317C1486.2 2319.8 1486.2 2312.9 1490.2 2314C1494.1 2315.1 1500.9 2322.1 1505.3 2323.5C1509.6 2324.9 1511 2320.1 1516 2322.6C1521.1 2325.2 1529.3 2331.6 1535.4 2338.6C1541.6 2345.6 1547.3 2358.2 1552.7 2364.5C1558.1 2370.7 1563.5 2374.7 1567.8 2376.1C1572.1 2377.6 1574.3 2375 1578.6 2373.1C1582.9 2371.2 1586.5 2367.3 1593.7 2364.5C1600.9 2361.6 1614.2 2360.9 1621.7 2355.8C1629.2 2350.8 1634.6 2340 1638.9 2334.3C1643.3 2328.5 1643.6 2324.9 1647.6 2321.3C1651.5 2317.8 1658 2313.9 1662.7 2312.7C1667.3 2311.5 1672 2313.5 1675.6 2314C1679.2 2314.5 1681 2316.3 1684.2 2315.7C1687.5 2315.2 1689.6 2312.3 1695 2310.6C1700.4 2308.8 1710.5 2305.8 1716.6 2305.4C1722.7 2305 1725.9 2307.9 1731.7 2308.4C1737.4 2308.9 1745.7 2307 1751.1 2308.4C1756.5 2309.8 1757.5 2314.4 1764 2317C1770.5 2319.7 1783.8 2324.6 1789.9 2324.4C1796 2324.2 1796.7 2316.2 1800.7 2315.7C1804.6 2315.2 1808.9 2316.8 1813.6 2321.3C1818.3 2325.9 1824.8 2340.3 1828.7 2342.9C1832.7 2345.6 1834.5 2337.3 1837.3 2337.3C1840.2 2337.3 1842.7 2340.9 1846 2342.9C1849.2 2344.9 1853.1 2344.1 1856.7 2349.4C1860.3 2354.6 1863.6 2369.5 1867.5 2374.4C1871.5 2379.3 1875.8 2377.7 1880.5 2378.7C1885.1 2379.7 1886.9 2377.6 1895.6 2380.4C1904.2 2383.3 1924.3 2393.1 1932.2 2396C1940.1 2398.8 1939.8 2397.9 1943 2397.7C1946.2 2397.5 1947.7 2394.7 1951.6 2394.7C1955.6 2394.7 1962.4 2397.5 1966.7 2397.7C1971 2397.9 1974.1 2396.5 1977.5 2396C1980.9 2395.4 1985.4 2394.7 1987 2394.4" stroke="#800000" stroke-width="8.3" clip-path="url(#c3R)"/>
<line x1="213.8" y1="2306.5" x2="213.8" y2="3229" stroke="#000" stroke-width="8.5" stroke-dasharray="37.5 22.5 5.6 23" stroke-dashoffset="0.1"/>
<line x1="444.5" y1="2323" x2="444.5" y2="3245" stroke="#000" stroke-width="8.9" stroke-dasharray="37.5 22.5 5.6 23" stroke-dashoffset="88.3"/>
<line x1="577.2" y1="2336" x2="577.2" y2="3258" stroke="#000" stroke-width="8.0" stroke-dasharray="37.5 22.5 5.6 23" stroke-dashoffset="88.4"/>
<line x1="1071" y1="1990.5" x2="1071" y2="3251" stroke="#000" stroke-width="8.5" stroke-dasharray="37.5 22.5 5.6 23" stroke-dashoffset="0.2"/>
<line x1="1238.5" y1="1930.5" x2="1238.5" y2="3236" stroke="#000" stroke-width="9.2" stroke-dasharray="37.5 22.5 5.6 23" stroke-dashoffset="0.1"/>
<line x1="1310.6" y1="2082" x2="1310.6" y2="3241" stroke="#000" stroke-width="8.8" stroke-dasharray="37.5 22.5 5.6 23" stroke-dashoffset="30"/>
<line x1="1360" y1="2127.5" x2="1360" y2="3227" stroke="#000" stroke-width="9" stroke-dasharray="37.5 22.5 5.6 23" stroke-dashoffset="0"/>
<line x1="1521.4" y1="2284" x2="1521.4" y2="3262" stroke="#000" stroke-width="9.2" stroke-dasharray="37.5 22.5 5.6 23" stroke-dashoffset="33.1"/>
<line x1="1655.5" y1="2291" x2="1655.5" y2="3212.5" stroke="#000" stroke-width="9.2" stroke-dasharray="37.5 22.5 5.6 23" stroke-dashoffset="0.5"/>
<line x1="1810.5" y1="2289.2" x2="1810.5" y2="3241" stroke="#000" stroke-width="8.9" stroke-dasharray="37.5 22.5 5.6 23" stroke-dashoffset="59.6"/>
<line x1="1848.6" y1="2314.5" x2="1848.6" y2="3238" stroke="#000" stroke-width="8.8" stroke-dasharray="37.5 22.5 5.6 23" stroke-dashoffset="87.9"/>
<g fill="#000">
<rect x="134" y="1806.2" width="6" height="1474"/>
<rect x="1975" y="1806.2" width="5.9" height="1474"/>
<rect x="136" y="1806.2" width="592" height="5.8"/>
<rect x="760" y="1806.2" width="1219" height="5.8"/>
<rect x="136.5" y="3275" width="591.5" height="6.7"/>
<rect x="759.5" y="3275" width="1219" height="6.7"/>
</g>
<g stroke="#000" stroke-width="7" stroke-linecap="butt">
<line x1="713.4" y1="1836.5" x2="743.6" y2="1781"/>
<line x1="744.7" y1="1836.5" x2="775.4" y2="1781"/>
<line x1="712.6" y1="3306.5" x2="744.1" y2="3249"/>
<line x1="743.6" y1="3306.5" x2="775.9" y2="3249"/>
</g>
<g stroke="#000" stroke-width="6">
<line x1="255" y1="3278.3" x2="255" y2="3248.9"/>
<line x1="373.2" y1="3278.3" x2="373.2" y2="3262.9"/>
<line x1="491.4" y1="3278.3" x2="491.4" y2="3248.9"/>
<line x1="609.6" y1="3278.3" x2="609.6" y2="3262.9"/>
<line x1="760.3" y1="3278.3" x2="760.3" y2="3248.9"/>
<line x1="861.8" y1="3278.3" x2="861.8" y2="3262.9"/>
<line x1="963.2" y1="3278.3" x2="963.2" y2="3248.9"/>
<line x1="1064.7" y1="3278.3" x2="1064.7" y2="3262.9"/>
<line x1="1166.2" y1="3278.3" x2="1166.2" y2="3248.9"/>
<line x1="1267.7" y1="3278.3" x2="1267.7" y2="3262.9"/>
<line x1="1369.1" y1="3278.3" x2="1369.1" y2="3248.9"/>
<line x1="1470.6" y1="3278.3" x2="1470.6" y2="3262.9"/>
<line x1="1572.1" y1="3278.3" x2="1572.1" y2="3248.9"/>
<line x1="1673.5" y1="3278.3" x2="1673.5" y2="3262.9"/>
<line x1="1775" y1="3278.3" x2="1775" y2="3248.9"/>
<line x1="1876.5" y1="3278.3" x2="1876.5" y2="3262.9"/>
</g>
<text transform="matrix(0.6170 0 0 0.6078 186.4 3356.4)" font-size="100">3400</text>
<text transform="matrix(0.6170 0 0 0.6078 422.8 3356.4)" font-size="100">3200</text>
<text transform="matrix(0.6170 0 0 0.6078 691.4 3356.4)" font-size="100">2000</text>
<text transform="matrix(0.6170 0 0 0.6078 892.9 3356.4)" font-size="100">1800</text>
<text transform="matrix(0.6170 0 0 0.6078 1095.9 3356.4)" font-size="100">1600</text>
<text transform="matrix(0.6170 0 0 0.6078 1298.8 3356.4)" font-size="100">1400</text>
<text transform="matrix(0.6170 0 0 0.6078 1501.8 3356.4)" font-size="100">1200</text>
<text transform="matrix(0.6170 0 0 0.6078 1704.7 3356.4)" font-size="100">1000</text>
<text transform="matrix(0.6170 0 0 0.6078 1926.3 3356.4)" font-size="100">800</text>
<text transform="matrix(0.7745 0 0 0.7971 746.9 3445.8)" font-size="100">Wavenumber/cm</text>
<text transform="matrix(0.4367 0 0 0.5161 1327.7 3410.1)" font-size="100">-</text>
<text transform="matrix(0.5020 0 0 0.4713 1344.3 3409.2)" font-size="100">1</text>
<text transform="matrix(0 -0.7637 0.7551 0 95.8 2845.2)" font-size="100">Adsorbance/a.u.</text>
<text transform="matrix(0.7801 0 0 0.8044 216.4 1908.1)" font-size="100">I=0.1</text>
<text transform="matrix(0.7645 0 0 0.7619 1830.2 1918.3)" font-size="100">(b)</text>
<text transform="matrix(0.6878 0 0 0.6572 165 2264.1)" font-size="100">3434</text>
<text transform="matrix(0.6909 0 0 0.6572 363.4 2296.3)" font-size="100">3242</text>
<text transform="matrix(0.6954 0 0 0.6572 548.4 2315.3)" font-size="100">3128</text>
<text transform="matrix(0.6850 0 0 0.6572 990.6 1969.8)" font-size="100">1690</text>
<text transform="matrix(0.6868 0 0 0.6572 1167.9 1911.3)" font-size="100">1525</text>
<text transform="matrix(0.6924 0 0 0.6572 1275.6 2053.6)" font-size="100">1458</text>
<text transform="matrix(0.6932 0 0 0.6572 1371.9 2141)" font-size="100">1409</text>
<text transform="matrix(0.7319 0 0 0.6572 1435.9 2229.8)" font-size="100">1251</text>
<text transform="matrix(0.7352 0 0 0.6572 1578.2 2271.9)" font-size="100">1114</text>
<text transform="matrix(0.6823 0 0 0.6572 1744.4 2271.9)" font-size="100">965</text>
<text transform="matrix(0.6924 0 0 0.6572 1859 2312)" font-size="100">927</text>
<text transform="matrix(0.5589 0 0 0.5018 267.3 2372.9)" font-size="100">90min</text>
<text transform="matrix(0.5559 0 0 0.5018 269.6 2494)" font-size="100">80min</text>
<text transform="matrix(0.5643 0 0 0.5018 244.2 2584.5)" font-size="100">70min(Ar)</text>
<text transform="matrix(0.5670 0 0 0.5018 265.2 2687.8)" font-size="100">60min</text>
<text transform="matrix(0.5553 0 0 0.5018 269.8 2794.4)" font-size="100">50min</text>
<text transform="matrix(0.5536 0 0 0.5018 270.8 2893.8)" font-size="100">40min</text>
<text transform="matrix(0.5548 0 0 0.5018 269.9 2990.2)" font-size="100">30min</text>
<text transform="matrix(0.5571 0 0 0.5018 273.4 3096.8)" font-size="100">20min</text>
<text transform="matrix(0.5623 0 0 0.5018 164.5 3186.5)" font-size="100">10min(Ar+NH</text>
<text transform="matrix(0.3937 0 0 0.2827 502.5 3203.5)" font-size="100">3</text>
<text transform="matrix(0.4679 0 0 0.5018 526.6 3186.5)" font-size="100">)</text>
</g>
</svg></body></html>
